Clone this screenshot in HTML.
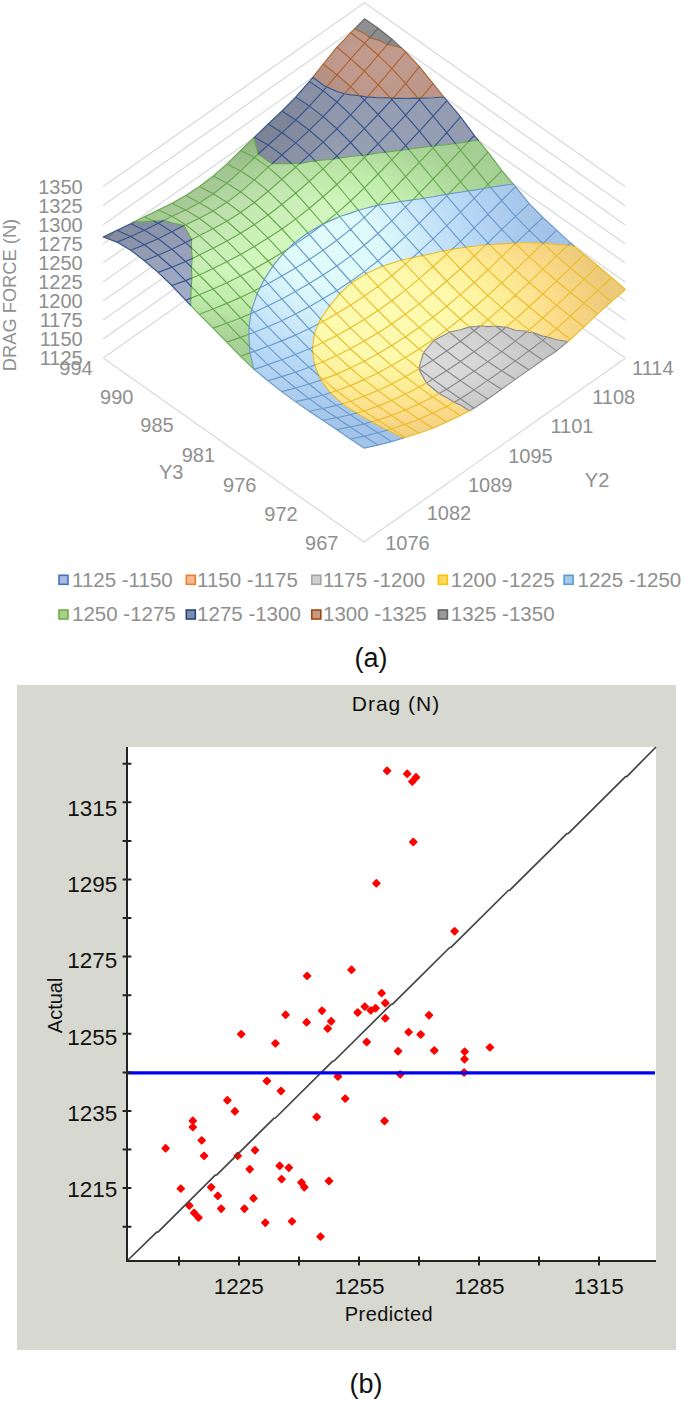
<!DOCTYPE html>
<html><head><meta charset="utf-8"><style>
html,body{margin:0;padding:0;background:#fff;}
body{width:685px;height:1405px;overflow:hidden;}
svg{display:block;font-family:"Liberation Sans",sans-serif;}
</style></head><body>
<svg width="685" height="1405" viewBox="0 0 685 1405">
<path fill="none" stroke="#d9d9d9" stroke-width="1.2" d="M103.2 358.0L364.5 174.3L625.3 358.3M103.2 338.9L364.5 155.2L625.3 339.2M103.2 319.9L364.5 136.2L625.3 320.2M103.2 300.9L364.5 117.1L625.3 301.1M103.2 281.8L364.5 98.1L625.3 282.1M103.2 262.8L364.5 79.0L625.3 263.1M103.2 243.7L364.5 60.0L625.3 244.0M103.2 224.7L364.5 40.9L625.3 225.0M103.2 205.6L364.5 21.9L625.3 205.9M103.2 186.5L364.5 2.8L625.3 186.8M103.2 358.0L364.0 542.0L625.3 358.3"/><defs><radialGradient id="g2" gradientUnits="userSpaceOnUse" cx="0" cy="0" r="1" gradientTransform="translate(432 362) scale(130 60)"><stop offset="0" stop-color="#dadada"/><stop offset="0.35" stop-color="#d7d7d7"/><stop offset="1" stop-color="#c2c2c2"/></radialGradient><radialGradient id="g3" gradientUnits="userSpaceOnUse" cx="0" cy="0" r="1" gradientTransform="translate(380 315) scale(250 140)"><stop offset="0" stop-color="#fdfbb2"/><stop offset="0.3" stop-color="#fdf9ac"/><stop offset="0.5" stop-color="#fdee98"/><stop offset="0.7" stop-color="#fcdd8c"/><stop offset="0.92" stop-color="#edca79"/></radialGradient><radialGradient id="g4" gradientUnits="userSpaceOnUse" cx="0" cy="0" r="1" gradientTransform="translate(330 250) scale(230 190)"><stop offset="0" stop-color="#e2fbfa"/><stop offset="0.2" stop-color="#defafb"/><stop offset="0.36" stop-color="#d0edf9"/><stop offset="0.6" stop-color="#b8d9f6"/><stop offset="0.93" stop-color="#a3c3e8"/></radialGradient><radialGradient id="g5" gradientUnits="userSpaceOnUse" cx="0" cy="0" r="1" gradientTransform="translate(280 235) scale(264 120)"><stop offset="0" stop-color="#d1f7be"/><stop offset="0.33" stop-color="#cff5bc"/><stop offset="0.58" stop-color="#c0ecac"/><stop offset="0.83" stop-color="#acd69a"/><stop offset="1" stop-color="#a5ce94"/></radialGradient><radialGradient id="g6" gradientUnits="userSpaceOnUse" cx="0" cy="0" r="1" gradientTransform="translate(340 165) scale(140 90)"><stop offset="0" stop-color="#9ca4b8"/><stop offset="0.3" stop-color="#98a0b4"/><stop offset="1" stop-color="#949cb2"/></radialGradient><linearGradient id="gdl" gradientUnits="userSpaceOnUse" x1="120" y1="228" x2="180" y2="290"><stop offset="0" stop-color="#92989f"/><stop offset="0" stop-color="#a0a9c2"/><stop offset="0.45" stop-color="#a0a9c2"/><stop offset="1" stop-color="#a2acc6"/></linearGradient><radialGradient id="g7" gradientUnits="userSpaceOnUse" cx="0" cy="0" r="1" gradientTransform="translate(380 60) scale(100 60)"><stop offset="0" stop-color="#c29d8f"/><stop offset="1" stop-color="#ba9486"/></radialGradient><radialGradient id="g8" gradientUnits="userSpaceOnUse" cx="0" cy="0" r="1" gradientTransform="translate(365 20) scale(40 20)"><stop offset="0" stop-color="#919191"/><stop offset="1" stop-color="#8c8c8c"/></radialGradient></defs><g stroke="none"><path fill="url(#g2)" d="M469.4 410.7L474.0 408.3L460.3 398.7L460.3 404.9ZM460.3 404.9L460.3 398.7L454.1 402.2ZM454.1 402.2L460.3 398.7L446.6 389.2L446.6 397.5ZM446.6 397.5L446.6 389.2L439.0 393.5ZM439.0 393.5L446.6 389.2L432.8 379.3L432.8 388.2ZM432.8 388.2L432.8 379.3L426.4 383.0ZM426.4 383.0L432.8 379.3L419.1 368.8L419.1 369.6ZM419.1 369.6L419.1 368.8L418.8 369.0ZM418.8 369.0L419.1 368.8L418.7 368.5ZM474.0 408.3L487.8 398.9L474.0 389.9L460.3 398.7ZM460.3 398.7L474.0 389.9L460.3 380.5L446.6 389.2ZM446.6 389.2L460.3 380.5L446.6 370.7L432.8 379.3ZM432.8 379.3L446.6 370.7L432.9 360.2L419.1 368.8ZM419.1 368.8L432.9 360.2L423.6 352.5L419.1 367.3ZM419.1 368.8L419.1 367.3L418.7 368.5ZM487.8 398.9L501.5 389.2L487.8 380.4L474.0 389.9ZM474.0 389.9L487.8 380.4L474.1 371.3L460.3 380.5ZM460.3 380.5L474.1 371.3L460.3 361.5L446.6 370.7ZM446.6 370.7L460.3 361.5L446.6 351.0L432.9 360.2ZM432.9 360.2L446.6 351.0L433.8 340.4L432.9 341.6ZM432.9 360.2L432.9 341.6L423.6 352.5ZM501.5 389.2L515.3 379.4L501.6 370.7L487.8 380.4ZM487.8 380.4L501.6 370.7L487.8 361.6L474.1 371.3ZM474.1 371.3L487.8 361.6L474.1 351.8L460.3 361.5ZM460.3 361.5L474.1 351.8L460.4 341.2L446.6 351.0ZM446.6 351.0L460.4 341.2L449.4 332.0L446.6 333.8ZM446.6 351.0L446.6 333.8L433.8 340.4ZM515.3 379.4L529.0 369.9L515.3 360.9L501.6 370.7ZM501.6 370.7L515.3 360.9L501.6 351.6L487.8 361.6ZM487.8 361.6L501.6 351.6L487.9 341.6L474.1 351.8ZM474.1 351.8L487.9 341.6L474.1 330.8L460.4 341.2ZM460.4 341.2L474.1 330.8L469.6 326.9L460.4 329.8ZM460.4 341.2L460.4 329.8L449.4 332.0ZM529.0 369.9L542.8 360.0L529.1 350.8L515.3 360.9ZM515.3 360.9L529.1 350.8L515.3 341.1L501.6 351.6ZM501.6 351.6L515.3 341.1L501.6 330.7L487.9 341.6ZM487.9 341.6L501.6 330.7L495.8 326.0L487.9 326.6ZM487.9 341.6L487.9 326.6L480.3 325.8L474.1 330.8ZM474.1 330.8L480.3 325.8L474.1 326.7ZM474.1 330.8L474.1 326.7L469.6 326.9ZM542.8 360.0L556.5 350.9L542.8 340.4L529.1 350.8ZM529.1 350.8L542.8 340.4L532.3 332.4L529.1 332.5ZM529.1 350.8L529.1 332.5L527.4 331.3L515.3 341.1ZM515.3 341.1L527.4 331.3L515.3 330.3ZM515.3 341.1L515.3 330.3L506.0 327.0L501.6 330.7ZM501.6 330.7L506.0 327.0L501.6 326.9ZM501.6 330.7L501.6 326.9L495.8 326.0ZM556.5 350.9L567.9 341.5L556.6 339.7ZM556.5 350.9L556.6 339.7L546.9 336.9L542.8 340.4ZM542.8 340.4L546.9 336.9L542.8 336.1ZM542.8 340.4L542.8 336.1L532.3 332.4Z"/><path fill="url(#g3)" d="M403.6 438.0L405.3 437.5L391.5 428.8L391.5 432.1ZM391.5 432.1L391.5 428.8L387.5 430.0ZM387.5 430.0L391.5 428.8L377.8 420.1L377.8 425.0ZM377.8 425.0L377.8 420.1L371.6 421.8ZM371.6 421.8L377.8 420.1L364.1 411.0L364.1 417.4ZM364.1 417.4L364.1 411.0L356.5 413.1ZM356.5 413.1L364.1 411.0L350.4 401.3L350.3 408.9ZM350.3 408.9L350.4 401.3L342.3 403.7ZM342.3 403.7L350.4 401.3L336.6 390.8L336.6 398.3ZM336.6 398.3L336.6 390.8L330.3 392.8ZM330.3 392.8L336.6 390.8L322.9 379.4L322.9 382.6ZM322.9 382.6L322.9 379.4L320.9 380.1ZM320.9 380.1L322.9 379.4L318.8 375.8ZM405.3 437.5L419.0 433.2L405.3 424.4L391.5 428.8ZM391.5 428.8L405.3 424.4L391.6 415.4L377.8 420.1ZM377.8 420.1L391.6 415.4L377.8 406.1L364.1 411.0ZM364.1 411.0L377.8 406.1L364.1 396.3L350.4 401.3ZM350.4 401.3L364.1 396.3L350.4 385.6L336.6 390.8ZM336.6 390.8L350.4 385.6L336.7 374.1L322.9 379.4ZM322.9 379.4L336.7 374.1L322.9 361.8ZM322.9 379.4L322.9 361.8L314.8 365.0L318.8 375.8ZM314.8 365.0L322.9 361.8L312.7 352.1ZM419.0 433.2L432.8 428.2L419.0 419.2L405.3 424.4ZM405.3 424.4L419.0 419.2L405.3 410.0L391.6 415.4ZM391.6 415.4L405.3 410.0L391.6 400.5L377.8 406.1ZM377.8 406.1L391.6 400.5L377.9 390.4L364.1 396.3ZM364.1 396.3L377.9 390.4L364.1 379.6L350.4 385.6ZM350.4 385.6L364.1 379.6L350.4 368.0L336.7 374.1ZM336.7 374.1L350.4 368.0L336.7 355.6L322.9 361.8ZM322.9 361.8L336.7 355.6L323.0 342.5ZM322.9 361.8L323.0 342.5L312.6 347.3L312.7 352.1ZM312.6 347.3L323.0 342.5L314.4 333.9ZM432.8 428.2L446.5 422.1L432.8 413.1L419.0 419.2ZM419.0 419.2L432.8 413.1L419.1 403.9L405.3 410.0ZM405.3 410.0L419.1 403.9L405.3 394.2L391.6 400.5ZM391.6 400.5L405.3 394.2L391.6 383.9L377.9 390.4ZM377.9 390.4L391.6 383.9L377.9 372.9L364.1 379.6ZM364.1 379.6L377.9 372.9L364.2 361.2L350.4 368.0ZM350.4 368.0L364.2 361.2L350.4 348.7L336.7 355.6ZM336.7 355.6L350.4 348.7L336.7 335.5L323.0 342.5ZM323.0 342.5L336.7 335.5L323.0 321.5ZM323.0 342.5L323.0 321.5L318.1 324.1L314.4 333.9ZM318.1 324.1L323.0 321.5L320.7 319.1ZM446.5 422.1L460.3 415.6L446.5 406.4L432.8 413.1ZM432.8 413.1L446.5 406.4L432.8 397.0L419.1 403.9ZM419.1 403.9L432.8 397.0L419.1 387.1L405.3 394.2ZM405.3 394.2L419.1 387.1L405.4 376.7L391.6 383.9ZM391.6 383.9L405.4 376.7L391.6 365.6L377.9 372.9ZM377.9 372.9L391.6 365.6L377.9 353.7L364.2 361.2ZM364.2 361.2L377.9 353.7L364.2 341.1L350.4 348.7ZM350.4 348.7L364.2 341.1L350.5 327.8L336.7 335.5ZM336.7 335.5L350.5 327.8L336.7 313.6L323.0 321.5ZM323.0 321.5L336.7 313.6L329.6 305.9L323.0 315.7ZM323.0 321.5L323.0 315.7L320.7 319.1ZM460.3 415.6L469.4 410.7L460.3 404.9ZM460.3 415.6L460.3 404.9L454.1 402.2L446.5 406.4ZM446.5 406.4L454.1 402.2L446.6 397.5ZM446.5 406.4L446.6 397.5L439.0 393.5L432.8 397.0ZM432.8 397.0L439.0 393.5L432.8 388.2ZM432.8 397.0L432.8 388.2L426.4 383.0L419.1 387.1ZM419.1 387.1L426.4 383.0L419.1 369.6ZM419.1 387.1L419.1 369.6L418.8 369.0L405.4 376.7ZM405.4 376.7L418.8 369.0L418.7 368.5L405.4 357.6ZM405.4 376.7L405.4 357.6L391.6 365.6ZM391.6 365.6L405.4 357.6L391.7 345.6L377.9 353.7ZM377.9 353.7L391.7 345.6L377.9 332.9L364.2 341.1ZM364.2 341.1L377.9 332.9L364.2 319.4L350.5 327.8ZM350.5 327.8L364.2 319.4L350.5 305.3L336.7 313.6ZM336.7 313.6L350.5 305.3L339.7 293.7L336.8 297.3ZM336.7 313.6L336.8 297.3L329.6 305.9ZM423.6 352.5L419.1 348.9L419.1 367.3ZM419.1 367.3L419.1 348.9L405.4 357.6L418.7 368.5ZM405.4 357.6L419.1 348.9L405.4 336.8L391.7 345.6ZM391.7 345.6L405.4 336.8L391.7 324.0L377.9 332.9ZM377.9 332.9L391.7 324.0L378.0 310.5L364.2 319.4ZM364.2 319.4L378.0 310.5L364.2 296.3L350.5 305.3ZM350.5 305.3L364.2 296.3L351.7 282.8L350.5 283.9ZM350.5 305.3L350.5 283.9L339.7 293.7ZM433.8 340.4L432.9 339.6L432.9 341.6ZM432.9 341.6L432.9 339.6L419.1 348.9L423.6 352.5ZM419.1 348.9L432.9 339.6L419.2 327.4L405.4 336.8ZM405.4 336.8L419.2 327.4L405.4 314.3L391.7 324.0ZM391.7 324.0L405.4 314.3L391.7 300.7L378.0 310.5ZM378.0 310.5L391.7 300.7L378.0 286.4L364.2 296.3ZM364.2 296.3L378.0 286.4L366.0 273.5L364.3 274.7ZM364.2 296.3L364.3 274.7L351.7 282.8ZM449.4 332.0L446.6 329.7L446.6 333.8ZM446.6 333.8L446.6 329.7L432.9 339.6L433.8 340.4ZM432.9 339.6L446.6 329.7L432.9 317.2L419.2 327.4ZM419.2 327.4L432.9 317.2L419.2 303.9L405.4 314.3ZM405.4 314.3L419.2 303.9L405.5 290.1L391.7 300.7ZM391.7 300.7L405.5 290.1L391.7 275.7L378.0 286.4ZM378.0 286.4L391.7 275.7L382.8 266.0L378.0 268.2ZM378.0 286.4L378.0 268.2L366.0 273.5ZM469.6 326.9L460.4 319.0L460.4 329.8ZM460.4 329.8L460.4 319.0L446.6 329.7L449.4 332.0ZM446.6 329.7L460.4 319.0L446.7 306.3L432.9 317.2ZM432.9 317.2L446.7 306.3L432.9 292.8L419.2 303.9ZM419.2 303.9L432.9 292.8L419.2 278.6L405.5 290.1ZM405.5 290.1L419.2 278.6L405.5 264.1L391.7 275.7ZM391.7 275.7L405.5 264.1L401.7 260.0L391.8 263.3ZM391.7 275.7L391.8 263.3L382.8 266.0ZM495.8 326.0L487.9 319.6L487.9 326.6ZM487.9 326.6L487.9 319.6L480.3 325.8ZM480.3 325.8L487.9 319.6L474.2 307.5L474.1 326.7ZM474.1 326.7L474.2 307.5L460.4 319.0L469.6 326.9ZM460.4 319.0L474.2 307.5L460.4 294.6L446.7 306.3ZM446.7 306.3L460.4 294.6L446.7 281.0L432.9 292.8ZM432.9 292.8L446.7 281.0L433.0 266.5L419.2 278.6ZM419.2 278.6L433.0 266.5L422.7 255.4L419.2 256.3ZM419.2 278.6L419.2 256.3L412.7 257.5L405.5 264.1ZM405.5 264.1L412.7 257.5L405.5 259.2ZM405.5 264.1L405.5 259.2L401.7 260.0ZM532.3 332.4L529.1 329.9L529.1 332.5ZM529.1 332.5L529.1 329.9L527.4 331.3ZM527.4 331.3L529.1 329.9L515.4 319.1L515.3 330.3ZM515.3 330.3L515.4 319.1L506.0 327.0ZM506.0 327.0L515.4 319.1L501.6 307.6L501.6 326.9ZM501.6 326.9L501.6 307.6L487.9 319.6L495.8 326.0ZM487.9 319.6L501.6 307.6L487.9 295.4L474.2 307.5ZM474.2 307.5L487.9 295.4L474.2 282.5L460.4 294.6ZM460.4 294.6L474.2 282.5L460.5 268.8L446.7 281.0ZM446.7 281.0L460.5 268.8L446.7 254.3L433.0 266.5ZM433.0 266.5L446.7 254.3L443.6 250.8L433.0 253.5ZM433.0 266.5L433.0 253.5L422.7 255.4ZM567.9 341.5L570.3 339.5L556.6 328.8L556.6 339.7ZM556.6 339.7L556.6 328.8L546.9 336.9ZM546.9 336.9L556.6 328.8L542.8 318.0L542.8 336.1ZM542.8 336.1L542.8 318.0L529.1 329.9L532.3 332.4ZM529.1 329.9L542.8 318.0L529.1 306.8L515.4 319.1ZM515.4 319.1L529.1 306.8L515.4 295.2L501.6 307.6ZM501.6 307.6L515.4 295.2L501.7 282.8L487.9 295.4ZM487.9 295.4L501.7 282.8L487.9 269.8L474.2 282.5ZM474.2 282.5L487.9 269.8L474.2 256.0L460.5 268.8ZM460.5 268.8L474.2 256.0L465.8 247.1L460.5 248.0ZM460.5 268.8L460.5 248.0L452.2 249.1L446.7 254.3ZM446.7 254.3L452.2 249.1L446.7 250.2ZM446.7 254.3L446.7 250.2L443.6 250.8ZM570.3 339.5L584.0 326.8L570.3 316.2L556.6 328.8ZM556.6 328.8L570.3 316.2L556.6 305.3L542.8 318.0ZM542.8 318.0L556.6 305.3L542.9 294.0L529.1 306.8ZM529.1 306.8L542.9 294.0L529.1 282.3L515.4 295.2ZM515.4 295.2L529.1 282.3L515.4 269.9L501.7 282.8ZM501.7 282.8L515.4 269.9L501.7 256.7L487.9 269.8ZM487.9 269.8L501.7 256.7L489.6 244.5L488.0 244.6ZM487.9 269.8L488.0 244.6L486.0 244.7L474.2 256.0ZM474.2 256.0L486.0 244.7L474.2 246.3ZM474.2 256.0L474.2 246.3L465.8 247.1ZM584.0 326.8L597.8 313.9L584.1 303.2L570.3 316.2ZM570.3 316.2L584.1 303.2L570.3 292.3L556.6 305.3ZM556.6 305.3L570.3 292.3L556.6 281.0L542.9 294.0ZM542.9 294.0L556.6 281.0L542.9 269.2L529.1 282.3ZM529.1 282.3L542.9 269.2L529.2 256.7L515.4 269.9ZM515.4 269.9L529.2 256.7L515.4 243.5L501.7 256.7ZM501.7 256.7L515.4 243.5L514.9 243.0L501.7 243.9ZM501.7 256.7L501.7 243.9L489.6 244.5ZM597.8 313.9L611.5 301.6L597.8 290.4L584.1 303.2ZM584.1 303.2L597.8 290.4L584.1 279.1L570.3 292.3ZM570.3 292.3L584.1 279.1L570.4 267.8L556.6 281.0ZM556.6 281.0L570.4 267.8L556.6 255.9L542.9 269.2ZM542.9 269.2L556.6 255.9L542.9 243.4L529.2 256.7ZM529.2 256.7L542.9 243.4L542.6 243.1L529.2 242.7ZM529.2 256.7L529.2 242.7L516.1 242.8L515.4 243.5ZM515.4 243.5L516.1 242.8L515.4 242.9ZM515.4 243.5L515.4 242.9L514.9 243.0ZM611.5 301.6L625.3 289.5L611.6 277.5L597.8 290.4ZM597.8 290.4L611.6 277.5L597.8 265.8L584.1 279.1ZM584.1 279.1L597.8 265.8L584.1 254.5L570.4 267.8ZM570.4 267.8L584.1 254.5L574.2 246.0L570.4 245.3ZM570.4 267.8L570.4 245.3L568.1 245.0L556.6 255.9ZM556.6 255.9L568.1 245.0L556.7 244.4ZM556.6 255.9L556.7 244.4L543.2 243.1L542.9 243.4ZM542.9 243.4L543.2 243.1L542.9 243.1ZM542.9 243.4L542.9 243.1L542.6 243.1Z"/><path fill="url(#g4)" d="M364.0 448.1L377.8 445.1L364.0 436.1L350.3 439.0ZM350.3 439.0L364.0 436.1L350.3 427.0L336.5 429.6ZM336.5 429.6L350.3 427.0L336.6 417.8L322.8 420.3ZM322.8 420.3L336.6 417.8L322.8 408.5L309.1 411.2ZM309.1 411.2L322.8 408.5L309.1 398.6L295.4 401.6ZM295.4 401.6L309.1 398.6L295.4 388.0L281.6 391.6ZM281.6 391.6L295.4 388.0L281.7 376.6L267.9 380.7ZM267.9 380.7L281.7 376.6L267.9 364.6L254.2 369.4ZM254.2 369.4L267.9 364.6L254.2 351.4ZM254.2 369.4L254.2 351.4L249.9 352.9L253.9 369.1ZM249.9 352.9L254.2 351.4L249.5 346.6ZM377.8 445.1L391.5 441.6L377.8 432.7L364.0 436.1ZM364.0 436.1L377.8 432.7L364.1 423.9L350.3 427.0ZM350.3 427.0L364.1 423.9L350.3 414.8L336.6 417.8ZM336.6 417.8L350.3 414.8L336.6 405.4L322.8 408.5ZM322.8 408.5L336.6 405.4L322.9 395.2L309.1 398.6ZM309.1 398.6L322.9 395.2L309.1 384.0L295.4 388.0ZM295.4 388.0L309.1 384.0L295.4 372.2L281.7 376.6ZM281.7 376.6L295.4 372.2L281.7 359.7L267.9 364.6ZM267.9 364.6L281.7 359.7L268.0 346.3L254.2 351.4ZM254.2 351.4L268.0 346.3L254.2 332.3ZM254.2 351.4L254.2 332.3L248.9 334.3L249.5 346.6ZM248.9 334.3L254.2 332.3L249.1 326.9ZM391.5 441.6L403.6 438.0L391.5 432.1ZM391.5 441.6L391.5 432.1L387.5 430.0L377.8 432.7ZM377.8 432.7L387.5 430.0L377.8 425.0ZM377.8 432.7L377.8 425.0L371.6 421.8L364.1 423.9ZM364.1 423.9L371.6 421.8L364.1 417.4ZM364.1 423.9L364.1 417.4L356.5 413.1L350.3 414.8ZM350.3 414.8L356.5 413.1L350.3 408.9ZM350.3 414.8L350.3 408.9L342.3 403.7L336.6 405.4ZM336.6 405.4L342.3 403.7L336.6 398.3ZM336.6 405.4L336.6 398.3L330.3 392.8L322.9 395.2ZM322.9 395.2L330.3 392.8L322.9 382.6ZM322.9 395.2L322.9 382.6L320.9 380.1L309.1 384.0ZM309.1 384.0L320.9 380.1L318.8 375.8L309.2 367.3ZM309.1 384.0L309.2 367.3L295.4 372.2ZM295.4 372.2L309.2 367.3L295.4 354.5L281.7 359.7ZM281.7 359.7L295.4 354.5L281.7 340.9L268.0 346.3ZM268.0 346.3L281.7 340.9L268.0 326.8L254.2 332.3ZM254.2 332.3L268.0 326.8L254.3 312.2ZM254.2 332.3L254.3 312.2L250.9 313.6L249.1 326.9ZM250.9 313.6L254.3 312.2L251.7 309.4ZM314.8 365.0L309.2 367.3L318.8 375.8ZM309.2 367.3L314.8 365.0L312.7 352.1L309.2 348.8ZM309.2 367.3L309.2 348.8L295.4 354.5ZM295.4 354.5L309.2 348.8L295.5 335.1L281.7 340.9ZM281.7 340.9L295.5 335.1L281.7 320.7L268.0 326.8ZM268.0 326.8L281.7 320.7L268.0 305.8L254.3 312.2ZM254.3 312.2L268.0 305.8L257.1 293.8L254.3 302.2ZM254.3 312.2L254.3 302.2L251.7 309.4ZM312.6 347.3L309.2 348.8L312.7 352.1ZM309.2 348.8L312.6 347.3L314.4 333.9L309.2 328.8ZM309.2 348.8L309.2 328.8L295.5 335.1ZM295.5 335.1L309.2 328.8L295.5 314.0L281.7 320.7ZM281.7 320.7L295.5 314.0L281.8 298.9L268.0 305.8ZM268.0 305.8L281.8 298.9L268.0 283.7ZM268.0 305.8L268.0 283.7L260.1 287.8L257.1 293.8ZM260.1 287.8L268.0 283.7L264.2 279.5ZM318.1 324.1L309.2 328.8L314.4 333.9ZM309.2 328.8L318.1 324.1L320.7 319.1L309.3 306.7ZM309.2 328.8L309.3 306.7L295.5 314.0ZM295.5 314.0L309.3 306.7L295.5 291.5L281.8 298.9ZM281.8 298.9L295.5 291.5L281.8 276.1L268.0 283.7ZM268.0 283.7L281.8 276.1L272.8 266.2L268.1 273.6ZM268.0 283.7L268.1 273.6L264.2 279.5ZM329.6 305.9L323.0 298.8L323.0 315.7ZM323.0 315.7L323.0 298.8L309.3 306.7L320.7 319.1ZM309.3 306.7L323.0 298.8L309.3 283.5L295.5 291.5ZM295.5 291.5L309.3 283.5L295.6 268.0L281.8 276.1ZM281.8 276.1L295.6 268.0L282.8 253.9L281.8 255.2ZM281.8 276.1L281.8 255.2L272.8 266.2ZM339.7 293.7L336.8 290.5L336.8 297.3ZM336.8 297.3L336.8 290.5L323.0 298.8L329.6 305.9ZM323.0 298.8L336.8 290.5L323.0 275.1L309.3 283.5ZM309.3 283.5L323.0 275.1L309.3 259.5L295.6 268.0ZM295.6 268.0L309.3 259.5L295.6 243.9ZM295.6 268.0L295.6 243.9L288.5 248.5L282.8 253.9ZM288.5 248.5L295.6 243.9L294.4 242.7ZM351.7 282.8L350.5 281.5L350.5 283.9ZM350.5 283.9L350.5 281.5L336.8 290.5L339.7 293.7ZM336.8 290.5L350.5 281.5L336.8 266.0L323.0 275.1ZM323.0 275.1L336.8 266.0L323.1 250.3L309.3 259.5ZM309.3 259.5L323.1 250.3L309.3 234.5L295.6 243.9ZM295.6 243.9L309.3 234.5L307.8 232.7L295.6 242.0ZM295.6 243.9L295.6 242.0L294.4 242.7ZM366.0 273.5L364.3 271.6L364.3 274.7ZM364.3 274.7L364.3 271.6L350.5 281.5L351.7 282.8ZM350.5 281.5L364.3 271.6L350.5 256.1L336.8 266.0ZM336.8 266.0L350.5 256.1L336.8 240.3L323.1 250.3ZM323.1 250.3L336.8 240.3L323.1 224.3L309.3 234.5ZM309.3 234.5L323.1 224.3L322.9 224.0L309.3 232.0ZM309.3 234.5L309.3 232.0L307.8 232.7ZM382.8 266.0L378.0 260.8L378.0 268.2ZM378.0 268.2L378.0 260.8L364.3 271.6L366.0 273.5ZM364.3 271.6L378.0 260.8L364.3 245.3L350.5 256.1ZM350.5 256.1L364.3 245.3L350.6 229.4L336.8 240.3ZM336.8 240.3L350.6 229.4L339.7 216.5L336.8 217.9ZM336.8 240.3L336.8 217.9L323.9 223.6L323.1 224.3ZM323.1 224.3L323.9 223.6L323.1 224.0ZM323.1 224.3L323.1 224.0L322.9 224.0ZM401.7 260.0L391.8 249.0L391.8 263.3ZM391.8 263.3L391.8 249.0L378.0 260.8L382.8 266.0ZM378.0 260.8L391.8 249.0L378.0 233.5L364.3 245.3ZM364.3 245.3L378.0 233.5L364.3 217.6L350.6 229.4ZM350.6 229.4L364.3 217.6L358.3 210.2L350.6 213.1ZM350.6 229.4L350.6 213.1L339.7 216.5ZM422.7 255.4L419.2 251.6L419.2 256.3ZM419.2 256.3L419.2 251.6L412.7 257.5ZM412.7 257.5L419.2 251.6L405.5 236.4L405.5 259.2ZM405.5 259.2L405.5 236.4L391.8 249.0L401.7 260.0ZM391.8 249.0L405.5 236.4L391.8 220.8L378.0 233.5ZM378.0 233.5L391.8 220.8L378.3 205.0L378.1 205.0ZM378.0 233.5L378.1 205.0L377.6 205.1L364.3 217.6ZM364.3 217.6L377.6 205.1L364.3 208.8ZM364.3 217.6L364.3 208.8L358.3 210.2ZM443.6 250.8L433.0 238.9L433.0 253.5ZM433.0 253.5L433.0 238.9L419.2 251.6L422.7 255.4ZM419.2 251.6L433.0 238.9L419.3 223.2L405.5 236.4ZM405.5 236.4L419.3 223.2L405.5 207.2L391.8 220.8ZM391.8 220.8L405.5 207.2L400.8 201.5L391.8 203.1ZM391.8 220.8L391.8 203.1L378.3 205.0ZM465.8 247.1L460.5 241.4L460.5 248.0ZM460.5 248.0L460.5 241.4L452.2 249.1ZM452.2 249.1L460.5 241.4L446.8 225.7L446.7 250.2ZM446.7 250.2L446.8 225.7L433.0 238.9L443.6 250.8ZM433.0 238.9L446.8 225.7L433.0 209.5L419.3 223.2ZM419.3 223.2L433.0 209.5L423.6 198.2L419.3 199.0ZM419.3 223.2L419.3 199.0L412.8 199.8L405.5 207.2ZM405.5 207.2L412.8 199.8L405.6 200.9ZM405.5 207.2L405.6 200.9L400.8 201.5ZM489.6 244.5L488.0 242.8L488.0 244.6ZM488.0 244.6L488.0 242.8L486.0 244.7ZM486.0 244.7L488.0 242.8L474.2 227.9L474.2 246.3ZM474.2 246.3L474.2 227.9L460.5 241.4L465.8 247.1ZM460.5 241.4L474.2 227.9L460.5 212.2L446.8 225.7ZM446.8 225.7L460.5 212.2L446.8 195.8L433.0 209.5ZM433.0 209.5L446.8 195.8L445.6 194.4L433.0 196.8ZM433.0 209.5L433.0 196.8L423.6 198.2ZM514.9 243.0L501.7 229.4L501.7 243.9ZM501.7 243.9L501.7 229.4L488.0 242.8L489.6 244.5ZM488.0 242.8L501.7 229.4L488.0 214.3L474.2 227.9ZM474.2 227.9L488.0 214.3L474.3 198.3L460.5 212.2ZM460.5 212.2L474.3 198.3L468.1 190.9L460.5 192.2ZM460.5 212.2L460.5 192.2L448.6 193.9L446.8 195.8ZM446.8 195.8L448.6 193.9L446.8 194.2ZM446.8 195.8L446.8 194.2L445.6 194.4ZM542.6 243.1L529.2 230.4L529.2 242.7ZM529.2 242.7L529.2 230.4L516.1 242.8ZM516.1 242.8L529.2 230.4L515.5 216.3L515.4 242.9ZM515.4 242.9L515.5 216.3L501.7 229.4L514.9 243.0ZM501.7 229.4L515.5 216.3L501.7 200.5L488.0 214.3ZM488.0 214.3L501.7 200.5L490.6 187.4L488.0 187.8ZM488.0 214.3L488.0 187.8L484.2 188.3L474.3 198.3ZM474.3 198.3L484.2 188.3L474.3 190.1ZM474.3 198.3L474.3 190.1L468.1 190.9ZM574.2 246.0L570.4 242.8L570.4 245.3ZM570.4 245.3L570.4 242.8L568.1 245.0ZM568.1 245.0L570.4 242.8L556.7 230.1L556.7 244.4ZM556.7 244.4L556.7 230.1L543.2 243.1ZM543.2 243.1L556.7 230.1L542.9 217.5L542.9 243.1ZM542.9 243.1L542.9 217.5L529.2 230.4L542.6 243.1ZM529.2 230.4L542.9 217.5L529.2 203.7L515.5 216.3ZM515.5 216.3L529.2 203.7L515.5 186.6L501.7 200.5ZM501.7 200.5L515.5 186.6L513.2 184.0L501.7 185.6ZM501.7 200.5L501.7 185.6L490.6 187.4Z"/><path fill="url(#g5)" d="M249.9 352.9L240.5 356.3L253.9 369.1ZM240.5 356.3L249.9 352.9L249.5 346.6L240.5 337.4ZM240.5 356.3L240.5 337.4L226.7 342.1ZM226.7 342.1L240.5 337.4L226.8 323.2L213.0 328.1ZM213.0 328.1L226.8 323.2L213.0 309.0L199.3 314.3ZM199.3 314.3L213.0 309.0L199.3 294.8ZM199.3 314.3L199.3 294.8L190.8 298.1L190.6 305.4ZM190.8 298.1L199.3 294.8L191.3 286.5ZM248.9 334.3L240.5 337.4L249.5 346.6ZM240.5 337.4L248.9 334.3L249.1 326.9L240.5 318.0ZM240.5 337.4L240.5 318.0L226.8 323.2ZM226.8 323.2L240.5 318.0L226.8 303.4L213.0 309.0ZM213.0 309.0L226.8 303.4L213.1 289.0L199.3 294.8ZM199.3 294.8L213.1 289.0L199.3 275.0ZM199.3 294.8L199.3 275.0L191.9 278.0L191.3 286.5ZM191.9 278.0L199.3 275.0L191.4 267.2ZM250.9 313.6L240.5 318.0L249.1 326.9ZM240.5 318.0L250.9 313.6L251.7 309.4L240.5 297.4ZM240.5 318.0L240.5 297.4L226.8 303.4ZM226.8 303.4L240.5 297.4L226.8 282.8L213.1 289.0ZM213.1 289.0L226.8 282.8L213.1 268.6L199.3 275.0ZM199.3 275.0L213.1 268.6L199.4 255.1ZM199.3 275.0L199.4 255.1L192.3 258.4L191.4 267.2ZM192.3 258.4L199.4 255.1L191.3 247.8ZM153.3 221.0L144.5 216.8L144.4 221.6ZM144.4 221.6L144.5 216.8L134.1 221.9ZM257.1 293.8L254.3 290.8L254.3 302.2ZM254.3 302.2L254.3 290.8L240.5 297.4L251.7 309.4ZM240.5 297.4L254.3 290.8L240.6 276.0L226.8 282.8ZM226.8 282.8L240.6 276.0L226.8 261.7L213.1 268.6ZM213.1 268.6L226.8 261.7L213.1 248.2L199.4 255.1ZM199.4 255.1L213.1 248.2L199.4 235.6ZM199.4 255.1L199.4 235.6L191.6 239.6L191.3 247.8ZM191.6 239.6L199.4 235.6L185.7 224.7L185.7 228.6ZM185.7 228.6L185.7 224.7L183.9 225.6ZM183.9 225.6L185.7 224.7L171.9 216.3L171.9 222.7ZM171.9 222.7L171.9 216.3L163.8 220.4ZM163.8 220.4L171.9 216.3L158.2 210.0L158.2 220.8ZM158.2 220.8L158.2 210.0L144.5 216.8L153.3 221.0ZM260.1 287.8L254.3 290.8L257.1 293.8ZM254.3 290.8L260.1 287.8L264.2 279.5L254.3 268.7ZM254.3 290.8L254.3 268.7L240.6 276.0ZM240.6 276.0L254.3 268.7L240.6 254.4L226.8 261.7ZM226.8 261.7L240.6 254.4L226.9 240.9L213.1 248.2ZM213.1 248.2L226.9 240.9L213.1 228.7L199.4 235.6ZM199.4 235.6L213.1 228.7L199.4 218.3L185.7 224.7ZM185.7 224.7L199.4 218.3L185.7 210.0L171.9 216.3ZM171.9 216.3L185.7 210.0L172.0 203.3L158.2 210.0ZM272.8 266.2L268.1 261.0L268.1 273.6ZM268.1 273.6L268.1 261.0L254.3 268.7L264.2 279.5ZM254.3 268.7L268.1 261.0L254.3 246.6L240.6 254.4ZM240.6 254.4L254.3 246.6L240.6 233.2L226.9 240.9ZM226.9 240.9L240.6 233.2L226.9 221.2L213.1 228.7ZM213.1 228.7L226.9 221.2L213.2 211.0L199.4 218.3ZM199.4 218.3L213.2 211.0L199.4 202.7L185.7 210.0ZM185.7 210.0L199.4 202.7L185.7 195.6L172.0 203.3ZM282.8 253.9L281.8 252.8L281.8 255.2ZM281.8 255.2L281.8 252.8L268.1 261.0L272.8 266.2ZM268.1 261.0L281.8 252.8L268.1 238.1L254.3 246.6ZM254.3 246.6L268.1 238.1L254.4 224.6L240.6 233.2ZM240.6 233.2L254.4 224.6L240.6 212.5L226.9 221.2ZM226.9 221.2L240.6 212.5L226.9 202.3L213.2 211.0ZM213.2 211.0L226.9 202.3L213.2 193.8L199.4 202.7ZM199.4 202.7L213.2 193.8L199.5 186.5L185.7 195.6ZM288.5 248.5L281.8 252.8L282.8 253.9ZM281.8 252.8L288.5 248.5L294.4 242.7L281.9 229.0ZM281.8 252.8L281.9 229.0L268.1 238.1ZM268.1 238.1L281.9 229.0L268.1 215.0L254.4 224.6ZM254.4 224.6L268.1 215.0L254.4 202.5L240.6 212.5ZM240.6 212.5L254.4 202.5L240.7 191.9L226.9 202.3ZM226.9 202.3L240.7 191.9L226.9 183.2L213.2 193.8ZM213.2 193.8L226.9 183.2L213.2 176.0L199.5 186.5ZM307.8 232.7L295.6 219.1L295.6 242.0ZM295.6 242.0L295.6 219.1L281.9 229.0L294.4 242.7ZM281.9 229.0L295.6 219.1L281.9 204.5L268.1 215.0ZM268.1 215.0L281.9 204.5L268.2 191.3L254.4 202.5ZM254.4 202.5L268.2 191.3L254.4 179.9L240.7 191.9ZM240.7 191.9L254.4 179.9L240.7 170.9L226.9 183.2ZM226.9 183.2L240.7 170.9L227.0 163.9L213.2 176.0ZM322.9 224.0L309.4 208.3L309.3 232.0ZM309.3 232.0L309.4 208.3L295.6 219.1L307.8 232.7ZM295.6 219.1L309.4 208.3L295.6 193.2L281.9 204.5ZM281.9 204.5L295.6 193.2L281.9 179.3L268.2 191.3ZM268.2 191.3L281.9 179.3L268.2 167.1L254.4 179.9ZM254.4 179.9L268.2 167.1L254.5 157.5L240.7 170.9ZM240.7 170.9L254.5 157.5L240.7 150.5L227.0 163.9ZM339.7 216.5L336.8 213.1L336.8 217.9ZM336.8 217.9L336.8 213.1L323.9 223.6ZM323.9 223.6L336.8 213.1L323.1 196.8L323.1 224.0ZM323.1 224.0L323.1 196.8L309.4 208.3L322.9 224.0ZM309.4 208.3L323.1 196.8L309.4 181.3L295.6 193.2ZM295.6 193.2L309.4 181.3L295.7 167.2L281.9 179.3ZM281.9 179.3L295.7 167.2L291.5 163.5L281.9 163.6ZM281.9 179.3L281.9 163.6L272.3 163.5L268.2 167.1ZM268.2 167.1L272.3 163.5L268.2 161.2ZM268.2 167.1L268.2 161.2L258.2 154.0L254.5 157.5ZM254.5 157.5L258.2 154.0L254.5 140.4ZM254.5 157.5L254.5 140.4L253.9 137.7L240.7 150.5ZM358.3 210.2L350.6 201.0L350.6 213.1ZM350.6 213.1L350.6 201.0L336.8 213.1L339.7 216.5ZM336.8 213.1L350.6 201.0L336.9 184.5L323.1 196.8ZM323.1 196.8L336.9 184.5L323.1 168.9L309.4 181.3ZM309.4 181.3L323.1 168.9L315.3 160.9L309.4 161.7ZM309.4 181.3L309.4 161.7L299.7 163.6L295.7 167.2ZM295.7 167.2L299.7 163.6L295.7 163.4ZM295.7 167.2L295.7 163.4L291.5 163.5ZM378.3 205.0L378.1 204.8L378.1 205.0ZM378.1 205.0L378.1 204.8L377.6 205.1ZM377.6 205.1L378.1 204.8L364.3 187.9L364.3 208.8ZM364.3 208.8L364.3 187.9L350.6 201.0L358.3 210.2ZM350.6 201.0L364.3 187.9L350.6 171.3L336.9 184.5ZM336.9 184.5L350.6 171.3L338.9 158.1L336.9 158.5ZM336.9 184.5L336.9 158.5L333.4 159.2L323.1 168.9ZM323.1 168.9L333.4 159.2L323.1 160.0ZM323.1 168.9L323.1 160.0L315.3 160.9ZM400.8 201.5L391.8 190.8L391.8 203.1ZM391.8 203.1L391.8 190.8L378.1 204.8L378.3 205.0ZM378.1 204.8L391.8 190.8L378.1 174.0L364.3 187.9ZM364.3 187.9L378.1 174.0L364.4 157.6L350.6 171.3ZM350.6 171.3L364.4 157.6L362.3 155.3L350.6 156.5ZM350.6 171.3L350.6 156.5L338.9 158.1ZM423.6 198.2L419.3 193.1L419.3 199.0ZM419.3 199.0L419.3 193.1L412.8 199.8ZM412.8 199.8L419.3 193.1L405.6 176.5L405.6 200.9ZM405.6 200.9L405.6 176.5L391.8 190.8L400.8 201.5ZM391.8 190.8L405.6 176.5L391.8 159.8L378.1 174.0ZM378.1 174.0L391.8 159.8L385.3 152.2L378.1 153.0ZM378.1 174.0L378.1 153.0L367.1 154.9L364.4 157.6ZM364.4 157.6L367.1 154.9L364.4 155.1ZM364.4 157.6L364.4 155.1L362.3 155.3ZM445.6 194.4L433.1 179.0L433.0 196.8ZM433.0 196.8L433.1 179.0L419.3 193.1L423.6 198.2ZM419.3 193.1L433.1 179.0L419.3 162.3L405.6 176.5ZM405.6 176.5L419.3 162.3L408.5 149.2L405.6 149.6ZM405.6 176.5L405.6 149.6L401.0 150.3L391.8 159.8ZM391.8 159.8L401.0 150.3L391.9 151.4ZM391.8 159.8L391.9 151.4L385.3 152.2ZM468.1 190.9L460.5 181.7L460.5 192.2ZM460.5 192.2L460.5 181.7L448.6 193.9ZM448.6 193.9L460.5 181.7L446.8 164.8L446.8 194.2ZM446.8 194.2L446.8 164.8L433.1 179.0L445.6 194.4ZM433.1 179.0L446.8 164.8L433.1 147.9L419.3 162.3ZM419.3 162.3L433.1 147.9L431.6 146.1L419.3 147.8ZM419.3 162.3L419.3 147.8L408.5 149.2ZM490.6 187.4L488.0 184.4L488.0 187.8ZM488.0 187.8L488.0 184.4L484.2 188.3ZM484.2 188.3L488.0 184.4L474.3 167.2L474.3 190.1ZM474.3 190.1L474.3 167.2L460.5 181.7L468.1 190.9ZM460.5 181.7L474.3 167.2L460.6 150.1L446.8 164.8ZM446.8 164.8L460.6 150.1L455.3 143.4L446.8 144.7ZM446.8 164.8L446.8 144.7L435.0 145.8L433.1 147.9ZM433.1 147.9L435.0 145.8L433.1 146.0ZM433.1 147.9L433.1 146.0L431.6 146.1ZM513.2 184.0L501.8 170.6L501.7 185.6ZM501.7 185.6L501.8 170.6L488.0 184.4L490.6 187.4ZM488.0 184.4L501.8 170.6L488.0 152.1L474.3 167.2ZM474.3 167.2L488.0 152.1L478.3 140.3L474.3 140.7ZM474.3 167.2L474.3 140.7L468.7 141.4L460.6 150.1ZM460.6 150.1L468.7 141.4L460.6 143.0ZM460.6 150.1L460.6 143.0L455.3 143.4Z"/><path fill="url(#gdl)" d="M190.8 298.1L185.6 300.2L190.6 305.4ZM185.6 300.2L190.8 298.1L191.3 286.5L185.6 280.6ZM185.6 300.2L185.6 280.6L171.8 285.5ZM171.8 285.5L185.6 280.6L171.9 267.2L158.1 272.4ZM158.1 272.4L171.9 267.2L158.1 255.2L144.4 260.7ZM144.4 260.7L158.1 255.2L144.4 244.8L130.7 250.2ZM130.7 250.2L144.4 244.8L130.7 236.5L116.9 242.1ZM116.9 242.1L130.7 236.5L117.0 230.2L103.2 237.0ZM191.9 278.0L185.6 280.6L191.3 286.5ZM185.6 280.6L191.9 278.0L191.4 267.2L185.6 261.5ZM185.6 280.6L185.6 261.5L171.9 267.2ZM171.9 267.2L185.6 261.5L171.9 249.2L158.1 255.2ZM158.1 255.2L171.9 249.2L158.2 238.7L144.4 244.8ZM144.4 244.8L158.2 238.7L144.4 230.3L130.7 236.5ZM130.7 236.5L144.4 230.3L130.7 223.7L117.0 230.2ZM192.3 258.4L185.6 261.5L191.4 267.2ZM185.6 261.5L192.3 258.4L191.3 247.8L185.6 242.6ZM185.6 261.5L185.6 242.6L171.9 249.2ZM171.9 249.2L185.6 242.6L171.9 231.8L158.2 238.7ZM158.2 238.7L171.9 231.8L158.2 223.3L144.4 230.3ZM144.4 230.3L158.2 223.3L153.3 221.0L144.4 221.6ZM144.4 230.3L144.4 221.6L134.1 221.9L130.7 223.7ZM191.6 239.6L185.6 242.6L191.3 247.8ZM185.6 242.6L191.6 239.6L185.7 228.6ZM185.6 242.6L185.7 228.6L183.9 225.6L171.9 231.8ZM171.9 231.8L183.9 225.6L171.9 222.7ZM171.9 231.8L171.9 222.7L163.8 220.4L158.2 223.3ZM158.2 223.3L163.8 220.4L158.2 220.8ZM158.2 223.3L158.2 220.8L153.3 221.0Z"/><path fill="url(#g6)" d="M291.5 163.5L281.9 155.0L281.9 163.6ZM281.9 163.6L281.9 155.0L272.3 163.5ZM272.3 163.5L281.9 155.0L268.2 145.0L268.2 161.2ZM268.2 161.2L268.2 145.0L258.2 154.0ZM258.2 154.0L268.2 145.0L254.5 137.2L254.5 140.4ZM254.5 140.4L254.5 137.2L253.9 137.7ZM315.3 160.9L309.4 154.9L309.4 161.7ZM309.4 161.7L309.4 154.9L299.7 163.6ZM299.7 163.6L309.4 154.9L295.7 142.9L295.7 163.4ZM295.7 163.4L295.7 142.9L281.9 155.0L291.5 163.5ZM281.9 155.0L295.7 142.9L282.0 132.8L268.2 145.0ZM268.2 145.0L282.0 132.8L268.2 124.0L254.5 137.2ZM338.9 158.1L336.9 155.9L336.9 158.5ZM336.9 158.5L336.9 155.9L333.4 159.2ZM333.4 159.2L336.9 155.9L323.2 142.2L323.1 160.0ZM323.1 160.0L323.2 142.2L309.4 154.9L315.3 160.9ZM309.4 154.9L323.2 142.2L309.4 130.2L295.7 142.9ZM295.7 142.9L309.4 130.2L295.7 120.0L282.0 132.8ZM282.0 132.8L295.7 120.0L282.0 111.0L268.2 124.0ZM362.3 155.3L350.6 142.5L350.6 156.5ZM350.6 156.5L350.6 142.5L336.9 155.9L338.9 158.1ZM336.9 155.9L350.6 142.5L336.9 128.8L323.2 142.2ZM323.2 142.2L336.9 128.8L323.2 116.6L309.4 130.2ZM309.4 130.2L323.2 116.6L309.5 106.1L295.7 120.0ZM295.7 120.0L309.5 106.1L295.7 97.1L282.0 111.0ZM385.3 152.2L378.1 143.8L378.1 153.0ZM378.1 153.0L378.1 143.8L367.1 154.9ZM367.1 154.9L378.1 143.8L364.4 128.7L364.4 155.1ZM364.4 155.1L364.4 128.7L350.6 142.5L362.3 155.3ZM350.6 142.5L364.4 128.7L350.7 114.8L336.9 128.8ZM336.9 128.8L350.7 114.8L336.9 102.0L323.2 116.6ZM323.2 116.6L336.9 102.0L323.2 90.9L309.5 106.1ZM309.5 106.1L323.2 90.9L309.5 81.5L295.7 97.1ZM408.5 149.2L405.6 145.6L405.6 149.6ZM405.6 149.6L405.6 145.6L401.0 150.3ZM401.0 150.3L405.6 145.6L391.9 129.7L391.9 151.4ZM391.9 151.4L391.9 129.7L378.1 143.8L385.3 152.2ZM378.1 143.8L391.9 129.7L378.1 114.5L364.4 128.7ZM364.4 128.7L378.1 114.5L364.4 100.2L350.7 114.8ZM350.7 114.8L364.4 100.2L359.9 95.8L350.7 94.9ZM350.7 114.8L350.7 94.9L344.5 93.7L336.9 102.0ZM336.9 102.0L344.5 93.7L337.0 91.5ZM336.9 102.0L337.0 91.5L326.6 86.9L323.2 90.9ZM323.2 90.9L326.6 86.9L323.2 85.3ZM323.2 90.9L323.2 85.3L312.8 77.3L309.5 81.5ZM431.6 146.1L419.4 131.2L419.3 147.8ZM419.3 147.8L419.4 131.2L405.6 145.6L408.5 149.2ZM405.6 145.6L419.4 131.2L405.6 115.1L391.9 129.7ZM391.9 129.7L405.6 115.1L391.9 99.6L378.1 114.5ZM378.1 114.5L391.9 99.6L390.3 97.9L378.2 97.7ZM378.1 114.5L378.2 97.7L367.4 96.9L364.4 100.2ZM364.4 100.2L367.4 96.9L364.4 96.6ZM364.4 100.2L364.4 96.6L359.9 95.8ZM455.3 143.4L446.8 132.7L446.8 144.7ZM446.8 144.7L446.8 132.7L435.0 145.8ZM435.0 145.8L446.8 132.7L433.1 116.1L433.1 146.0ZM433.1 146.0L433.1 116.1L419.4 131.2L431.6 146.1ZM419.4 131.2L433.1 116.1L419.4 99.7L405.6 115.1ZM405.6 115.1L419.4 99.7L418.0 98.1L405.6 98.5ZM405.6 115.1L405.6 98.5L393.2 98.1L391.9 99.6ZM391.9 99.6L393.2 98.1L391.9 98.0ZM391.9 99.6L391.9 98.0L390.3 97.9ZM478.3 140.3L474.3 135.4L474.3 140.7ZM474.3 140.7L474.3 135.4L468.7 141.4ZM468.7 141.4L474.3 135.4L460.6 116.8L460.6 143.0ZM460.6 143.0L460.6 116.8L446.8 132.7L455.3 143.4ZM446.8 132.7L460.6 116.8L446.9 100.6L433.1 116.1ZM433.1 116.1L446.9 100.6L443.9 97.0L433.1 97.8ZM433.1 116.1L433.1 97.8L420.7 98.1L419.4 99.7ZM419.4 99.7L420.7 98.1L419.4 98.1ZM419.4 99.7L419.4 98.1L418.0 98.1Z"/><path fill="url(#g7)" d="M359.9 95.8L350.7 86.8L350.7 94.9ZM350.7 94.9L350.7 86.8L344.5 93.7ZM344.5 93.7L350.7 86.8L337.0 74.8L337.0 91.5ZM337.0 91.5L337.0 74.8L326.6 86.9ZM326.6 86.9L337.0 74.8L323.2 64.0L323.2 85.3ZM323.2 85.3L323.2 64.0L312.8 77.3ZM390.3 97.9L378.2 84.9L378.2 97.7ZM378.2 97.7L378.2 84.9L367.4 96.9ZM367.4 96.9L378.2 84.9L364.4 71.2L364.4 96.6ZM364.4 96.6L364.4 71.2L350.7 86.8L359.9 95.8ZM350.7 86.8L364.4 71.2L350.7 58.8L337.0 74.8ZM337.0 74.8L350.7 58.8L337.0 47.1L323.2 64.0ZM418.0 98.1L405.7 83.6L405.6 98.5ZM405.6 98.5L405.7 83.6L393.2 98.1ZM393.2 98.1L405.7 83.6L391.9 68.7L391.9 98.0ZM391.9 98.0L391.9 68.7L378.2 84.9L390.3 97.9ZM378.2 84.9L391.9 68.7L378.2 55.2L364.4 71.2ZM364.4 71.2L378.2 55.2L364.5 43.3L350.7 58.8ZM350.7 58.8L364.5 43.3L350.7 32.8L337.0 47.1ZM443.9 97.0L433.1 83.6L433.1 97.8ZM433.1 97.8L433.1 83.6L420.7 98.1ZM420.7 98.1L433.1 83.6L419.4 66.6L419.4 98.1ZM419.4 98.1L419.4 66.6L405.7 83.6L418.0 98.1ZM405.7 83.6L419.4 66.6L405.7 52.0L391.9 68.7ZM391.9 68.7L405.7 52.0L401.1 47.7L391.9 45.3ZM391.9 68.7L391.9 45.3L387.4 44.4L378.2 55.2ZM378.2 55.2L387.4 44.4L378.2 40.1ZM378.2 55.2L378.2 40.1L369.7 37.6L364.5 43.3ZM364.5 43.3L369.7 37.6L364.5 33.5ZM364.5 43.3L364.5 33.5L354.7 28.8L350.7 32.8Z"/><path fill="url(#g8)" d="M401.1 47.7L392.0 39.2L391.9 45.3ZM391.9 45.3L392.0 39.2L387.4 44.4ZM387.4 44.4L392.0 39.2L378.2 28.2L378.2 40.1ZM378.2 40.1L378.2 28.2L369.7 37.6ZM369.7 37.6L378.2 28.2L364.5 18.8L364.5 33.5ZM364.5 33.5L364.5 18.8L354.7 28.8Z"/><g fill="#000"><path fill-opacity="0.020" d="M171.8 285.5L185.6 280.6L171.9 267.2L158.1 272.4Z"/><path fill-opacity="0.049" d="M158.1 272.4L171.9 267.2L158.1 255.2L144.4 260.7Z"/><path fill-opacity="0.082" d="M144.4 260.7L158.1 255.2L144.4 244.8L130.7 250.2Z"/><path fill-opacity="0.120" d="M130.7 250.2L144.4 244.8L130.7 236.5L116.9 242.1Z"/><path fill-opacity="0.160" d="M116.9 242.1L130.7 236.5L117.0 230.2L103.2 237.0Z"/><path fill-opacity="0.020" d="M185.6 280.6L199.3 275.0L185.6 261.5L171.9 267.2Z"/><path fill-opacity="0.049" d="M171.9 267.2L185.6 261.5L171.9 249.2L158.1 255.2Z"/><path fill-opacity="0.082" d="M158.1 255.2L171.9 249.2L158.2 238.7L144.4 244.8Z"/><path fill-opacity="0.120" d="M144.4 244.8L158.2 238.7L144.4 230.3L130.7 236.5Z"/><path fill-opacity="0.160" d="M130.7 236.5L144.4 230.3L130.7 223.7L117.0 230.2Z"/><path fill-opacity="0.020" d="M199.3 275.0L213.1 268.6L199.4 255.1L185.6 261.5Z"/><path fill-opacity="0.049" d="M185.6 261.5L199.4 255.1L185.6 242.6L171.9 249.2Z"/><path fill-opacity="0.082" d="M171.9 249.2L185.6 242.6L171.9 231.8L158.2 238.7Z"/><path fill-opacity="0.120" d="M158.2 238.7L171.9 231.8L158.2 223.3L144.4 230.3Z"/><path fill-opacity="0.160" d="M144.4 230.3L158.2 223.3L144.5 216.8L130.7 223.7Z"/><path fill-opacity="0.020" d="M213.1 268.6L226.8 261.7L213.1 248.2L199.4 255.1Z"/><path fill-opacity="0.049" d="M199.4 255.1L213.1 248.2L199.4 235.6L185.6 242.6Z"/><path fill-opacity="0.082" d="M185.6 242.6L199.4 235.6L185.7 224.7L171.9 231.8Z"/><path fill-opacity="0.120" d="M171.9 231.8L185.7 224.7L171.9 216.3L158.2 223.3Z"/><path fill-opacity="0.160" d="M158.2 223.3L171.9 216.3L158.2 210.0L144.5 216.8Z"/><path fill-opacity="0.020" d="M226.8 261.7L240.6 254.4L226.9 240.9L213.1 248.2Z"/><path fill-opacity="0.049" d="M213.1 248.2L226.9 240.9L213.1 228.7L199.4 235.6Z"/><path fill-opacity="0.082" d="M199.4 235.6L213.1 228.7L199.4 218.3L185.7 224.7Z"/><path fill-opacity="0.120" d="M185.7 224.7L199.4 218.3L185.7 210.0L171.9 216.3Z"/><path fill-opacity="0.160" d="M171.9 216.3L185.7 210.0L172.0 203.3L158.2 210.0Z"/><path fill-opacity="0.020" d="M240.6 254.4L254.3 246.6L240.6 233.2L226.9 240.9Z"/><path fill-opacity="0.049" d="M226.9 240.9L240.6 233.2L226.9 221.2L213.1 228.7Z"/><path fill-opacity="0.082" d="M213.1 228.7L226.9 221.2L213.2 211.0L199.4 218.3Z"/><path fill-opacity="0.120" d="M199.4 218.3L213.2 211.0L199.4 202.7L185.7 210.0Z"/><path fill-opacity="0.160" d="M185.7 210.0L199.4 202.7L185.7 195.6L172.0 203.3Z"/><path fill-opacity="0.020" d="M254.3 246.6L268.1 238.1L254.4 224.6L240.6 233.2Z"/><path fill-opacity="0.049" d="M240.6 233.2L254.4 224.6L240.6 212.5L226.9 221.2Z"/><path fill-opacity="0.082" d="M226.9 221.2L240.6 212.5L226.9 202.3L213.2 211.0Z"/><path fill-opacity="0.120" d="M213.2 211.0L226.9 202.3L213.2 193.8L199.4 202.7Z"/><path fill-opacity="0.160" d="M199.4 202.7L213.2 193.8L199.5 186.5L185.7 195.6Z"/><path fill-opacity="0.020" d="M268.1 238.1L281.9 229.0L268.1 215.0L254.4 224.6Z"/><path fill-opacity="0.049" d="M254.4 224.6L268.1 215.0L254.4 202.5L240.6 212.5Z"/><path fill-opacity="0.082" d="M240.6 212.5L254.4 202.5L240.7 191.9L226.9 202.3Z"/><path fill-opacity="0.120" d="M226.9 202.3L240.7 191.9L226.9 183.2L213.2 193.8Z"/><path fill-opacity="0.160" d="M213.2 193.8L226.9 183.2L213.2 176.0L199.5 186.5Z"/><path fill-opacity="0.020" d="M281.9 229.0L295.6 219.1L281.9 204.5L268.1 215.0Z"/><path fill-opacity="0.049" d="M268.1 215.0L281.9 204.5L268.2 191.3L254.4 202.5Z"/><path fill-opacity="0.082" d="M254.4 202.5L268.2 191.3L254.4 179.9L240.7 191.9Z"/><path fill-opacity="0.120" d="M240.7 191.9L254.4 179.9L240.7 170.9L226.9 183.2Z"/><path fill-opacity="0.160" d="M226.9 183.2L240.7 170.9L227.0 163.9L213.2 176.0Z"/><path fill-opacity="0.020" d="M295.6 219.1L309.4 208.3L295.6 193.2L281.9 204.5Z"/><path fill-opacity="0.049" d="M281.9 204.5L295.6 193.2L281.9 179.3L268.2 191.3Z"/><path fill-opacity="0.082" d="M268.2 191.3L281.9 179.3L268.2 167.1L254.4 179.9Z"/><path fill-opacity="0.120" d="M254.4 179.9L268.2 167.1L254.5 157.5L240.7 170.9Z"/><path fill-opacity="0.160" d="M240.7 170.9L254.5 157.5L240.7 150.5L227.0 163.9Z"/><path fill-opacity="0.020" d="M309.4 208.3L323.1 196.8L309.4 181.3L295.6 193.2Z"/><path fill-opacity="0.049" d="M295.6 193.2L309.4 181.3L295.7 167.2L281.9 179.3Z"/><path fill-opacity="0.082" d="M281.9 179.3L295.7 167.2L281.9 155.0L268.2 167.1Z"/><path fill-opacity="0.120" d="M268.2 167.1L281.9 155.0L268.2 145.0L254.5 157.5Z"/><path fill-opacity="0.160" d="M254.5 157.5L268.2 145.0L254.5 137.2L240.7 150.5Z"/><path fill-opacity="0.020" d="M323.1 196.8L336.9 184.5L323.1 168.9L309.4 181.3Z"/><path fill-opacity="0.049" d="M309.4 181.3L323.1 168.9L309.4 154.9L295.7 167.2Z"/><path fill-opacity="0.082" d="M295.7 167.2L309.4 154.9L295.7 142.9L281.9 155.0Z"/><path fill-opacity="0.120" d="M281.9 155.0L295.7 142.9L282.0 132.8L268.2 145.0Z"/><path fill-opacity="0.160" d="M268.2 145.0L282.0 132.8L268.2 124.0L254.5 137.2Z"/><path fill-opacity="0.020" d="M336.9 184.5L350.6 171.3L336.9 155.9L323.1 168.9Z"/><path fill-opacity="0.049" d="M323.1 168.9L336.9 155.9L323.2 142.2L309.4 154.9Z"/><path fill-opacity="0.082" d="M309.4 154.9L323.2 142.2L309.4 130.2L295.7 142.9Z"/><path fill-opacity="0.120" d="M295.7 142.9L309.4 130.2L295.7 120.0L282.0 132.8Z"/><path fill-opacity="0.160" d="M282.0 132.8L295.7 120.0L282.0 111.0L268.2 124.0Z"/><path fill-opacity="0.015" d="M350.6 171.3L364.4 157.6L350.6 142.5L336.9 155.9Z"/><path fill-opacity="0.036" d="M336.9 155.9L350.6 142.5L336.9 128.8L323.2 142.2Z"/><path fill-opacity="0.062" d="M323.2 142.2L336.9 128.8L323.2 116.6L309.4 130.2Z"/><path fill-opacity="0.090" d="M309.4 130.2L323.2 116.6L309.5 106.1L295.7 120.0Z"/><path fill-opacity="0.120" d="M295.7 120.0L309.5 106.1L295.7 97.1L282.0 111.0Z"/><path fill-opacity="0.010" d="M364.4 157.6L378.1 143.8L364.4 128.7L350.6 142.5Z"/><path fill-opacity="0.024" d="M350.6 142.5L364.4 128.7L350.7 114.8L336.9 128.8Z"/><path fill-opacity="0.041" d="M336.9 128.8L350.7 114.8L336.9 102.0L323.2 116.6Z"/><path fill-opacity="0.060" d="M323.2 116.6L336.9 102.0L323.2 90.9L309.5 106.1Z"/><path fill-opacity="0.080" d="M309.5 106.1L323.2 90.9L309.5 81.5L295.7 97.1Z"/><path fill-opacity="0.005" d="M378.1 143.8L391.9 129.7L378.1 114.5L364.4 128.7Z"/><path fill-opacity="0.012" d="M364.4 128.7L378.1 114.5L364.4 100.2L350.7 114.8Z"/><path fill-opacity="0.021" d="M350.7 114.8L364.4 100.2L350.7 86.8L336.9 102.0Z"/><path fill-opacity="0.030" d="M336.9 102.0L350.7 86.8L337.0 74.8L323.2 90.9Z"/><path fill-opacity="0.040" d="M323.2 90.9L337.0 74.8L323.2 64.0L309.5 81.5Z"/><path fill-opacity="0.000" d="M391.9 129.7L405.6 115.1L391.9 99.6L378.1 114.5Z"/><path fill-opacity="0.000" d="M378.1 114.5L391.9 99.6L378.2 84.9L364.4 100.2Z"/><path fill-opacity="0.000" d="M364.4 100.2L378.2 84.9L364.4 71.2L350.7 86.8Z"/><path fill-opacity="0.000" d="M350.7 86.8L364.4 71.2L350.7 58.8L337.0 74.8Z"/><path fill-opacity="0.000" d="M337.0 74.8L350.7 58.8L337.0 47.1L323.2 64.0Z"/><path fill-opacity="0.000" d="M405.6 115.1L419.4 99.7L405.7 83.6L391.9 99.6Z"/><path fill-opacity="0.000" d="M391.9 99.6L405.7 83.6L391.9 68.7L378.2 84.9Z"/><path fill-opacity="0.000" d="M378.2 84.9L391.9 68.7L378.2 55.2L364.4 71.2Z"/><path fill-opacity="0.000" d="M364.4 71.2L378.2 55.2L364.5 43.3L350.7 58.8Z"/><path fill-opacity="0.000" d="M350.7 58.8L364.5 43.3L350.7 32.8L337.0 47.1Z"/><path fill-opacity="0.000" d="M419.4 99.7L433.1 83.6L419.4 66.6L405.7 83.6Z"/><path fill-opacity="0.000" d="M405.7 83.6L419.4 66.6L405.7 52.0L391.9 68.7Z"/><path fill-opacity="0.000" d="M391.9 68.7L405.7 52.0L392.0 39.2L378.2 55.2Z"/><path fill-opacity="0.000" d="M378.2 55.2L392.0 39.2L378.2 28.2L364.5 43.3Z"/><path fill-opacity="0.000" d="M364.5 43.3L378.2 28.2L364.5 18.8L350.7 32.8Z"/></g></g><g fill="none" stroke-width="1.15" stroke-linejoin="round" stroke-linecap="round"><path stroke="#8a8a8a" d="M469.4 410.7L460.3 404.9L454.1 402.2L446.6 397.5L439.0 393.5L432.8 388.2L426.4 383.0L419.1 369.6L418.8 369.0L418.7 368.5M423.6 352.5L419.1 367.3L418.7 368.5M433.8 340.4L432.9 341.6L423.6 352.5M449.4 332.0L446.6 333.8L433.8 340.4M469.6 326.9L460.4 329.8L449.4 332.0M495.8 326.0L487.9 326.6L480.3 325.8L474.1 326.7L469.6 326.9M532.3 332.4L529.1 332.5L527.4 331.3L515.3 330.3L506.0 327.0L501.6 326.9L495.8 326.0M567.9 341.5L556.6 339.7L546.9 336.9L542.8 336.1L532.3 332.4M474.0 408.3L460.3 398.7L446.6 389.2L432.8 379.3L419.1 368.8L418.7 368.5M487.8 398.9L474.0 389.9L460.3 380.5L446.6 370.7L432.9 360.2L423.6 352.5M501.5 389.2L487.8 380.4L474.1 371.3L460.3 361.5L446.6 351.0L433.8 340.4M515.3 379.4L501.6 370.7L487.8 361.6L474.1 351.8L460.4 341.2L449.4 332.0M529.0 369.9L515.3 360.9L501.6 351.6L487.9 341.6L474.1 330.8L469.6 326.9M542.8 360.0L529.1 350.8L515.3 341.1L501.6 330.7L495.8 326.0M556.5 350.9L542.8 340.4L532.3 332.4M469.4 410.7L474.0 408.3L487.8 398.9L501.5 389.2L515.3 379.4L529.0 369.9L542.8 360.0L556.5 350.9L567.9 341.5M454.1 402.2L460.3 398.7L474.0 389.9L487.8 380.4L501.6 370.7L515.3 360.9L529.1 350.8L542.8 340.4L546.9 336.9M439.0 393.5L446.6 389.2L460.3 380.5L474.1 371.3L487.8 361.6L501.6 351.6L515.3 341.1L527.4 331.3M426.4 383.0L432.8 379.3L446.6 370.7L460.3 361.5L474.1 351.8L487.9 341.6L501.6 330.7L506.0 327.0M418.8 369.0L419.1 368.8L432.9 360.2L446.6 351.0L460.4 341.2L474.1 330.8L480.3 325.8"/><path stroke="#ebbd2c" d="M403.6 438.0L391.5 432.1L387.5 430.0L377.8 425.0L371.6 421.8L364.1 417.4L356.5 413.1L350.3 408.9L342.3 403.7L336.6 398.3L330.3 392.8L322.9 382.6L320.9 380.1L318.8 375.8M314.8 365.0L318.8 375.8M314.8 365.0L312.7 352.1M312.6 347.3L312.7 352.1M312.6 347.3L314.4 333.9M318.1 324.1L314.4 333.9M318.1 324.1L320.7 319.1M329.6 305.9L323.0 315.7L320.7 319.1M339.7 293.7L336.8 297.3L329.6 305.9M351.7 282.8L350.5 283.9L339.7 293.7M366.0 273.5L364.3 274.7L351.7 282.8M382.8 266.0L378.0 268.2L366.0 273.5M401.7 260.0L391.8 263.3L382.8 266.0M422.7 255.4L419.2 256.3L412.7 257.5L405.5 259.2L401.7 260.0M443.6 250.8L433.0 253.5L422.7 255.4M465.8 247.1L460.5 248.0L452.2 249.1L446.7 250.2L443.6 250.8M489.6 244.5L488.0 244.6L486.0 244.7L474.2 246.3L465.8 247.1M514.9 243.0L501.7 243.9L489.6 244.5M542.6 243.1L529.2 242.7L516.1 242.8L515.4 242.9L514.9 243.0M574.2 246.0L570.4 245.3L568.1 245.0L556.7 244.4L543.2 243.1L542.9 243.1L542.6 243.1M405.3 437.5L391.5 428.8L377.8 420.1L364.1 411.0L350.4 401.3L336.6 390.8L322.9 379.4L318.8 375.8M419.0 433.2L405.3 424.4L391.6 415.4L377.8 406.1L364.1 396.3L350.4 385.6L336.7 374.1L322.9 361.8L312.7 352.1M432.8 428.2L419.0 419.2L405.3 410.0L391.6 400.5L377.9 390.4L364.1 379.6L350.4 368.0L336.7 355.6L323.0 342.5L314.4 333.9M446.5 422.1L432.8 413.1L419.1 403.9L405.3 394.2L391.6 383.9L377.9 372.9L364.2 361.2L350.4 348.7L336.7 335.5L323.0 321.5L320.7 319.1M460.3 415.6L446.5 406.4L432.8 397.0L419.1 387.1L405.4 376.7L391.6 365.6L377.9 353.7L364.2 341.1L350.5 327.8L336.7 313.6L329.6 305.9M418.7 368.5L405.4 357.6L391.7 345.6L377.9 332.9L364.2 319.4L350.5 305.3L339.7 293.7M423.6 352.5L419.1 348.9L405.4 336.8L391.7 324.0L378.0 310.5L364.2 296.3L351.7 282.8M433.8 340.4L432.9 339.6L419.2 327.4L405.4 314.3L391.7 300.7L378.0 286.4L366.0 273.5M449.4 332.0L446.6 329.7L432.9 317.2L419.2 303.9L405.5 290.1L391.7 275.7L382.8 266.0M469.6 326.9L460.4 319.0L446.7 306.3L432.9 292.8L419.2 278.6L405.5 264.1L401.7 260.0M495.8 326.0L487.9 319.6L474.2 307.5L460.4 294.6L446.7 281.0L433.0 266.5L422.7 255.4M532.3 332.4L529.1 329.9L515.4 319.1L501.6 307.6L487.9 295.4L474.2 282.5L460.5 268.8L446.7 254.3L443.6 250.8M570.3 339.5L556.6 328.8L542.8 318.0L529.1 306.8L515.4 295.2L501.7 282.8L487.9 269.8L474.2 256.0L465.8 247.1M584.0 326.8L570.3 316.2L556.6 305.3L542.9 294.0L529.1 282.3L515.4 269.9L501.7 256.7L489.6 244.5M597.8 313.9L584.1 303.2L570.3 292.3L556.6 281.0L542.9 269.2L529.2 256.7L515.4 243.5L514.9 243.0M611.5 301.6L597.8 290.4L584.1 279.1L570.4 267.8L556.6 255.9L542.9 243.4L542.6 243.1M625.3 289.5L611.6 277.5L597.8 265.8L584.1 254.5L574.2 246.0M403.6 438.0L405.3 437.5L419.0 433.2L432.8 428.2L446.5 422.1L460.3 415.6L469.4 410.7M567.9 341.5L570.3 339.5L584.0 326.8L597.8 313.9L611.5 301.6L625.3 289.5M387.5 430.0L391.5 428.8L405.3 424.4L419.0 419.2L432.8 413.1L446.5 406.4L454.1 402.2M546.9 336.9L556.6 328.8L570.3 316.2L584.1 303.2L597.8 290.4L611.6 277.5M371.6 421.8L377.8 420.1L391.6 415.4L405.3 410.0L419.1 403.9L432.8 397.0L439.0 393.5M527.4 331.3L529.1 329.9L542.8 318.0L556.6 305.3L570.3 292.3L584.1 279.1L597.8 265.8M356.5 413.1L364.1 411.0L377.8 406.1L391.6 400.5L405.3 394.2L419.1 387.1L426.4 383.0M506.0 327.0L515.4 319.1L529.1 306.8L542.9 294.0L556.6 281.0L570.4 267.8L584.1 254.5M342.3 403.7L350.4 401.3L364.1 396.3L377.9 390.4L391.6 383.9L405.4 376.7L418.8 369.0M480.3 325.8L487.9 319.6L501.6 307.6L515.4 295.2L529.1 282.3L542.9 269.2L556.6 255.9L568.1 245.0M330.3 392.8L336.6 390.8L350.4 385.6L364.1 379.6L377.9 372.9L391.6 365.6L405.4 357.6L419.1 348.9L432.9 339.6L446.6 329.7L460.4 319.0L474.2 307.5L487.9 295.4L501.7 282.8L515.4 269.9L529.2 256.7L542.9 243.4L543.2 243.1M320.9 380.1L322.9 379.4L336.7 374.1L350.4 368.0L364.2 361.2L377.9 353.7L391.7 345.6L405.4 336.8L419.2 327.4L432.9 317.2L446.7 306.3L460.4 294.6L474.2 282.5L487.9 269.8L501.7 256.7L515.4 243.5L516.1 242.8M314.8 365.0L322.9 361.8L336.7 355.6L350.4 348.7L364.2 341.1L377.9 332.9L391.7 324.0L405.4 314.3L419.2 303.9L432.9 292.8L446.7 281.0L460.5 268.8L474.2 256.0L486.0 244.7M312.6 347.3L323.0 342.5L336.7 335.5L350.5 327.8L364.2 319.4L378.0 310.5L391.7 300.7L405.5 290.1L419.2 278.6L433.0 266.5L446.7 254.3L452.2 249.1M318.1 324.1L323.0 321.5L336.7 313.6L350.5 305.3L364.2 296.3L378.0 286.4L391.7 275.7L405.5 264.1L412.7 257.5"/><path stroke="#6a9acb" d="M249.9 352.9L253.9 369.1M249.9 352.9L249.5 346.6M248.9 334.3L249.5 346.6M248.9 334.3L249.1 326.9M250.9 313.6L249.1 326.9M250.9 313.6L251.7 309.4M257.1 293.8L254.3 302.2L251.7 309.4M260.1 287.8L257.1 293.8M260.1 287.8L264.2 279.5M272.8 266.2L268.1 273.6L264.2 279.5M282.8 253.9L281.8 255.2L272.8 266.2M288.5 248.5L282.8 253.9M288.5 248.5L294.4 242.7M307.8 232.7L295.6 242.0L294.4 242.7M322.9 224.0L309.3 232.0L307.8 232.7M339.7 216.5L336.8 217.9L323.9 223.6L323.1 224.0L322.9 224.0M358.3 210.2L350.6 213.1L339.7 216.5M378.3 205.0L378.1 205.0L377.6 205.1L364.3 208.8L358.3 210.2M400.8 201.5L391.8 203.1L378.3 205.0M423.6 198.2L419.3 199.0L412.8 199.8L405.6 200.9L400.8 201.5M445.6 194.4L433.0 196.8L423.6 198.2M468.1 190.9L460.5 192.2L448.6 193.9L446.8 194.2L445.6 194.4M490.6 187.4L488.0 187.8L484.2 188.3L474.3 190.1L468.1 190.9M513.2 184.0L501.7 185.6L490.6 187.4M364.0 448.1L350.3 439.0L336.5 429.6L322.8 420.3L309.1 411.2L295.4 401.6L281.6 391.6L267.9 380.7L254.2 369.4L253.9 369.1M377.8 445.1L364.0 436.1L350.3 427.0L336.6 417.8L322.8 408.5L309.1 398.6L295.4 388.0L281.7 376.6L267.9 364.6L254.2 351.4L249.5 346.6M391.5 441.6L377.8 432.7L364.1 423.9L350.3 414.8L336.6 405.4L322.9 395.2L309.1 384.0L295.4 372.2L281.7 359.7L268.0 346.3L254.2 332.3L249.1 326.9M318.8 375.8L309.2 367.3L295.4 354.5L281.7 340.9L268.0 326.8L254.3 312.2L251.7 309.4M312.7 352.1L309.2 348.8L295.5 335.1L281.7 320.7L268.0 305.8L257.1 293.8M314.4 333.9L309.2 328.8L295.5 314.0L281.8 298.9L268.0 283.7L264.2 279.5M320.7 319.1L309.3 306.7L295.5 291.5L281.8 276.1L272.8 266.2M329.6 305.9L323.0 298.8L309.3 283.5L295.6 268.0L282.8 253.9M339.7 293.7L336.8 290.5L323.0 275.1L309.3 259.5L295.6 243.9L294.4 242.7M351.7 282.8L350.5 281.5L336.8 266.0L323.1 250.3L309.3 234.5L307.8 232.7M366.0 273.5L364.3 271.6L350.5 256.1L336.8 240.3L323.1 224.3L322.9 224.0M382.8 266.0L378.0 260.8L364.3 245.3L350.6 229.4L339.7 216.5M401.7 260.0L391.8 249.0L378.0 233.5L364.3 217.6L358.3 210.2M422.7 255.4L419.2 251.6L405.5 236.4L391.8 220.8L378.3 205.0M443.6 250.8L433.0 238.9L419.3 223.2L405.5 207.2L400.8 201.5M465.8 247.1L460.5 241.4L446.8 225.7L433.0 209.5L423.6 198.2M489.6 244.5L488.0 242.8L474.2 227.9L460.5 212.2L446.8 195.8L445.6 194.4M514.9 243.0L501.7 229.4L488.0 214.3L474.3 198.3L468.1 190.9M542.6 243.1L529.2 230.4L515.5 216.3L501.7 200.5L490.6 187.4M574.2 246.0L570.4 242.8L556.7 230.1L542.9 217.5L529.2 203.7L515.5 186.6L513.2 184.0M364.0 448.1L377.8 445.1L391.5 441.6L403.6 438.0M350.3 439.0L364.0 436.1L377.8 432.7L387.5 430.0M336.5 429.6L350.3 427.0L364.1 423.9L371.6 421.8M322.8 420.3L336.6 417.8L350.3 414.8L356.5 413.1M309.1 411.2L322.8 408.5L336.6 405.4L342.3 403.7M568.1 245.0L570.4 242.8M295.4 401.6L309.1 398.6L322.9 395.2L330.3 392.8M543.2 243.1L556.7 230.1M281.6 391.6L295.4 388.0L309.1 384.0L320.9 380.1M516.1 242.8L529.2 230.4L542.9 217.5M267.9 380.7L281.7 376.6L295.4 372.2L309.2 367.3L314.8 365.0M486.0 244.7L488.0 242.8L501.7 229.4L515.5 216.3L529.2 203.7M254.2 369.4L267.9 364.6L281.7 359.7L295.4 354.5L309.2 348.8L312.6 347.3M452.2 249.1L460.5 241.4L474.2 227.9L488.0 214.3L501.7 200.5L515.5 186.6M249.9 352.9L254.2 351.4L268.0 346.3L281.7 340.9L295.5 335.1L309.2 328.8L318.1 324.1M412.7 257.5L419.2 251.6L433.0 238.9L446.8 225.7L460.5 212.2L474.3 198.3L484.2 188.3M248.9 334.3L254.2 332.3L268.0 326.8L281.7 320.7L295.5 314.0L309.3 306.7L323.0 298.8L336.8 290.5L350.5 281.5L364.3 271.6L378.0 260.8L391.8 249.0L405.5 236.4L419.3 223.2L433.0 209.5L446.8 195.8L448.6 193.9M250.9 313.6L254.3 312.2L268.0 305.8L281.8 298.9L295.5 291.5L309.3 283.5L323.0 275.1L336.8 266.0L350.5 256.1L364.3 245.3L378.0 233.5L391.8 220.8L405.5 207.2L412.8 199.8M260.1 287.8L268.0 283.7L281.8 276.1L295.6 268.0L309.3 259.5L323.1 250.3L336.8 240.3L350.6 229.4L364.3 217.6L377.6 205.1M288.5 248.5L295.6 243.9L309.3 234.5L323.1 224.3L323.9 223.6"/><path stroke="#68a850" d="M190.8 298.1L190.6 305.4M190.8 298.1L191.3 286.5M191.9 278.0L191.3 286.5M191.9 278.0L191.4 267.2M192.3 258.4L191.4 267.2M192.3 258.4L191.3 247.8M153.3 221.0L144.4 221.6L134.1 221.9M191.6 239.6L191.3 247.8M191.6 239.6L185.7 228.6L183.9 225.6L171.9 222.7L163.8 220.4L158.2 220.8L153.3 221.0M291.5 163.5L281.9 163.6L272.3 163.5L268.2 161.2L258.2 154.0L254.5 140.4L253.9 137.7M315.3 160.9L309.4 161.7L299.7 163.6L295.7 163.4L291.5 163.5M338.9 158.1L336.9 158.5L333.4 159.2L323.1 160.0L315.3 160.9M362.3 155.3L350.6 156.5L338.9 158.1M385.3 152.2L378.1 153.0L367.1 154.9L364.4 155.1L362.3 155.3M408.5 149.2L405.6 149.6L401.0 150.3L391.9 151.4L385.3 152.2M431.6 146.1L419.3 147.8L408.5 149.2M455.3 143.4L446.8 144.7L435.0 145.8L433.1 146.0L431.6 146.1M478.3 140.3L474.3 140.7L468.7 141.4L460.6 143.0L455.3 143.4M253.9 369.1L240.5 356.3L226.7 342.1L213.0 328.1L199.3 314.3L190.6 305.4M249.5 346.6L240.5 337.4L226.8 323.2L213.0 309.0L199.3 294.8L191.3 286.5M249.1 326.9L240.5 318.0L226.8 303.4L213.1 289.0L199.3 275.0L191.4 267.2M251.7 309.4L240.5 297.4L226.8 282.8L213.1 268.6L199.4 255.1L191.3 247.8M153.3 221.0L144.5 216.8M257.1 293.8L254.3 290.8L240.6 276.0L226.8 261.7L213.1 248.2L199.4 235.6L185.7 224.7L171.9 216.3L158.2 210.0M264.2 279.5L254.3 268.7L240.6 254.4L226.9 240.9L213.1 228.7L199.4 218.3L185.7 210.0L172.0 203.3M272.8 266.2L268.1 261.0L254.3 246.6L240.6 233.2L226.9 221.2L213.2 211.0L199.4 202.7L185.7 195.6M282.8 253.9L281.8 252.8L268.1 238.1L254.4 224.6L240.6 212.5L226.9 202.3L213.2 193.8L199.5 186.5M294.4 242.7L281.9 229.0L268.1 215.0L254.4 202.5L240.7 191.9L226.9 183.2L213.2 176.0M307.8 232.7L295.6 219.1L281.9 204.5L268.2 191.3L254.4 179.9L240.7 170.9L227.0 163.9M322.9 224.0L309.4 208.3L295.6 193.2L281.9 179.3L268.2 167.1L254.5 157.5L240.7 150.5M339.7 216.5L336.8 213.1L323.1 196.8L309.4 181.3L295.7 167.2L291.5 163.5M358.3 210.2L350.6 201.0L336.9 184.5L323.1 168.9L315.3 160.9M378.3 205.0L378.1 204.8L364.3 187.9L350.6 171.3L338.9 158.1M400.8 201.5L391.8 190.8L378.1 174.0L364.4 157.6L362.3 155.3M423.6 198.2L419.3 193.1L405.6 176.5L391.8 159.8L385.3 152.2M445.6 194.4L433.1 179.0L419.3 162.3L408.5 149.2M468.1 190.9L460.5 181.7L446.8 164.8L433.1 147.9L431.6 146.1M490.6 187.4L488.0 184.4L474.3 167.2L460.6 150.1L455.3 143.4M513.2 184.0L501.8 170.6L488.0 152.1L478.3 140.3M240.5 356.3L249.9 352.9M484.2 188.3L488.0 184.4L501.8 170.6M226.7 342.1L240.5 337.4L248.9 334.3M448.6 193.9L460.5 181.7L474.3 167.2L488.0 152.1M213.0 328.1L226.8 323.2L240.5 318.0L250.9 313.6M412.8 199.8L419.3 193.1L433.1 179.0L446.8 164.8L460.6 150.1L468.7 141.4M199.3 314.3L213.0 309.0L226.8 303.4L240.5 297.4L254.3 290.8L260.1 287.8M377.6 205.1L378.1 204.8L391.8 190.8L405.6 176.5L419.3 162.3L433.1 147.9L435.0 145.8M190.8 298.1L199.3 294.8L213.1 289.0L226.8 282.8L240.6 276.0L254.3 268.7L268.1 261.0L281.8 252.8L288.5 248.5M323.9 223.6L336.8 213.1L350.6 201.0L364.3 187.9L378.1 174.0L391.8 159.8L401.0 150.3M191.9 278.0L199.3 275.0L213.1 268.6L226.8 261.7L240.6 254.4L254.3 246.6L268.1 238.1L281.9 229.0L295.6 219.1L309.4 208.3L323.1 196.8L336.9 184.5L350.6 171.3L364.4 157.6L367.1 154.9M192.3 258.4L199.4 255.1L213.1 248.2L226.9 240.9L240.6 233.2L254.4 224.6L268.1 215.0L281.9 204.5L295.6 193.2L309.4 181.3L323.1 168.9L333.4 159.2M191.6 239.6L199.4 235.6L213.1 228.7L226.9 221.2L240.6 212.5L254.4 202.5L268.2 191.3L281.9 179.3L295.7 167.2L299.7 163.6M183.9 225.6L185.7 224.7L199.4 218.3L213.2 211.0L226.9 202.3L240.7 191.9L254.4 179.9L268.2 167.1L272.3 163.5M163.8 220.4L171.9 216.3L185.7 210.0L199.4 202.7L213.2 193.8L226.9 183.2L240.7 170.9L254.5 157.5L258.2 154.0M134.1 221.9L144.5 216.8L158.2 210.0L172.0 203.3L185.7 195.6L199.5 186.5L213.2 176.0L227.0 163.9L240.7 150.5L253.9 137.7"/><path stroke="#36558c" d="M359.9 95.8L350.7 94.9L344.5 93.7L337.0 91.5L326.6 86.9L323.2 85.3L312.8 77.3M390.3 97.9L378.2 97.7L367.4 96.9L364.4 96.6L359.9 95.8M418.0 98.1L405.6 98.5L393.2 98.1L391.9 98.0L390.3 97.9M443.9 97.0L433.1 97.8L420.7 98.1L419.4 98.1L418.0 98.1M190.6 305.4L185.6 300.2L171.8 285.5L158.1 272.4L144.4 260.7L130.7 250.2L116.9 242.1L103.2 237.0M191.3 286.5L185.6 280.6L171.9 267.2L158.1 255.2L144.4 244.8L130.7 236.5L117.0 230.2M191.4 267.2L185.6 261.5L171.9 249.2L158.2 238.7L144.4 230.3L130.7 223.7M191.3 247.8L185.6 242.6L171.9 231.8L158.2 223.3L153.3 221.0M291.5 163.5L281.9 155.0L268.2 145.0L254.5 137.2M315.3 160.9L309.4 154.9L295.7 142.9L282.0 132.8L268.2 124.0M338.9 158.1L336.9 155.9L323.2 142.2L309.4 130.2L295.7 120.0L282.0 111.0M362.3 155.3L350.6 142.5L336.9 128.8L323.2 116.6L309.5 106.1L295.7 97.1M385.3 152.2L378.1 143.8L364.4 128.7L350.7 114.8L336.9 102.0L323.2 90.9L309.5 81.5M408.5 149.2L405.6 145.6L391.9 129.7L378.1 114.5L364.4 100.2L359.9 95.8M431.6 146.1L419.4 131.2L405.6 115.1L391.9 99.6L390.3 97.9M455.3 143.4L446.8 132.7L433.1 116.1L419.4 99.7L418.0 98.1M478.3 140.3L474.3 135.4L460.6 116.8L446.9 100.6L443.9 97.0M468.7 141.4L474.3 135.4M435.0 145.8L446.8 132.7L460.6 116.8M185.6 300.2L190.8 298.1M401.0 150.3L405.6 145.6L419.4 131.2L433.1 116.1L446.9 100.6M171.8 285.5L185.6 280.6L191.9 278.0M367.1 154.9L378.1 143.8L391.9 129.7L405.6 115.1L419.4 99.7L420.7 98.1M158.1 272.4L171.9 267.2L185.6 261.5L192.3 258.4M333.4 159.2L336.9 155.9L350.6 142.5L364.4 128.7L378.1 114.5L391.9 99.6L393.2 98.1M144.4 260.7L158.1 255.2L171.9 249.2L185.6 242.6L191.6 239.6M299.7 163.6L309.4 154.9L323.2 142.2L336.9 128.8L350.7 114.8L364.4 100.2L367.4 96.9M130.7 250.2L144.4 244.8L158.2 238.7L171.9 231.8L183.9 225.6M272.3 163.5L281.9 155.0L295.7 142.9L309.4 130.2L323.2 116.6L336.9 102.0L344.5 93.7M116.9 242.1L130.7 236.5L144.4 230.3L158.2 223.3L163.8 220.4M258.2 154.0L268.2 145.0L282.0 132.8L295.7 120.0L309.5 106.1L323.2 90.9L326.6 86.9M103.2 237.0L117.0 230.2L130.7 223.7L134.1 221.9M253.9 137.7L254.5 137.2L268.2 124.0L282.0 111.0L295.7 97.1L309.5 81.5L312.8 77.3"/><path stroke="#ad6332" d="M401.1 47.7L391.9 45.3L387.4 44.4L378.2 40.1L369.7 37.6L364.5 33.5L354.7 28.8M359.9 95.8L350.7 86.8L337.0 74.8L323.2 64.0M390.3 97.9L378.2 84.9L364.4 71.2L350.7 58.8L337.0 47.1M418.0 98.1L405.7 83.6L391.9 68.7L378.2 55.2L364.5 43.3L350.7 32.8M443.9 97.0L433.1 83.6L419.4 66.6L405.7 52.0L401.1 47.7M420.7 98.1L433.1 83.6M393.2 98.1L405.7 83.6L419.4 66.6M367.4 96.9L378.2 84.9L391.9 68.7L405.7 52.0M344.5 93.7L350.7 86.8L364.4 71.2L378.2 55.2L387.4 44.4M326.6 86.9L337.0 74.8L350.7 58.8L364.5 43.3L369.7 37.6M312.8 77.3L323.2 64.0L337.0 47.1L350.7 32.8L354.7 28.8"/><path stroke="#666666" d="M401.1 47.7L392.0 39.2L378.2 28.2L364.5 18.8M387.4 44.4L392.0 39.2M369.7 37.6L378.2 28.2M354.7 28.8L364.5 18.8"/></g><g fill="#8f8f8f" font-size="20"><text x="82.7" y="365.2" text-anchor="end">1125</text><text x="82.7" y="346.1" text-anchor="end">1150</text><text x="82.7" y="327.1" text-anchor="end">1175</text><text x="82.7" y="308.1" text-anchor="end">1200</text><text x="82.7" y="289.0" text-anchor="end">1225</text><text x="82.7" y="269.9" text-anchor="end">1250</text><text x="82.7" y="250.9" text-anchor="end">1275</text><text x="82.7" y="231.8" text-anchor="end">1300</text><text x="82.7" y="212.8" text-anchor="end">1325</text><text x="82.7" y="193.7" text-anchor="end">1350</text><text x="76.0" y="375.2" text-anchor="middle">994</text><text x="116.8" y="404.0" text-anchor="middle">990</text><text x="157.0" y="432.2" text-anchor="middle">985</text><text x="198.4" y="461.9" text-anchor="middle">981</text><text x="239.8" y="491.5" text-anchor="middle">976</text><text x="281.0" y="520.7" text-anchor="middle">972</text><text x="321.8" y="549.9" text-anchor="middle">967</text><text x="407.5" y="549.5" text-anchor="middle">1076</text><text x="448.9" y="520.4" text-anchor="middle">1082</text><text x="490.2" y="491.7" text-anchor="middle">1089</text><text x="530.5" y="462.5" text-anchor="middle">1095</text><text x="571.9" y="433.0" text-anchor="middle">1101</text><text x="613.7" y="403.9" text-anchor="middle">1108</text><text x="652.8" y="374.9" text-anchor="middle">1114</text><text x="171.2" y="479.2" text-anchor="middle">Y3</text><text x="597.1" y="487.2" text-anchor="middle">Y2</text><text transform="translate(16.0 295.0) rotate(-90)" text-anchor="middle" font-size="18.3">DRAG FORCE (N)</text></g><g fill="#8f8f8f" font-size="20.5"><rect x="59.0" y="575.3" width="9" height="9" fill="#a9b9e0" stroke="#4472c4" stroke-width="1.6"/><text x="72.0" y="586.7">1125 -1150</text><rect x="186.3" y="575.3" width="9" height="9" fill="#f6b890" stroke="#ed7d31" stroke-width="1.6"/><text x="197.1" y="586.7">1150 -1175</text><rect x="311.8" y="575.3" width="9" height="9" fill="#cfcfcf" stroke="#a5a5a5" stroke-width="1.6"/><text x="323.0" y="586.7">1175 -1200</text><rect x="438.4" y="575.3" width="9" height="9" fill="#ffd966" stroke="#ffc000" stroke-width="1.6"/><text x="450.8" y="586.7">1200 -1225</text><rect x="564.1" y="575.3" width="9" height="9" fill="#a6c8ea" stroke="#5b9bd5" stroke-width="1.6"/><text x="577.5" y="586.7">1225 -1250</text><rect x="59.0" y="610.0" width="9" height="9" fill="#a9d18e" stroke="#70ad47" stroke-width="1.6"/><text x="72.0" y="621.4">1250 -1275</text><rect x="186.3" y="610.0" width="9" height="9" fill="#7d8db0" stroke="#264478" stroke-width="1.6"/><text x="197.1" y="621.4">1275 -1300</text><rect x="311.8" y="610.0" width="9" height="9" fill="#c59a80" stroke="#9e480e" stroke-width="1.6"/><text x="323.0" y="621.4">1300 -1325</text><rect x="438.4" y="610.0" width="9" height="9" fill="#9a9a9a" stroke="#636363" stroke-width="1.6"/><text x="450.8" y="621.4">1325 -1350</text></g><g font-size="27" fill="#111" text-anchor="middle"><text x="371.0" y="666.5">(a)</text><text x="366.0" y="1392.8">(b)</text></g><g font-size="22.5" fill="#111"><rect x="17" y="685" width="659" height="665" fill="#d7d8d0"/><rect x="127" y="747" width="529" height="514" fill="#fff"/><path d="M383.8 770.8l3.3 -3.3l3.3 3.3l-3.3 3.3zM403.9 773.8l3.3 -3.3l3.3 3.3l-3.3 3.3zM412.7 777.3l3.3 -3.3l3.3 3.3l-3.3 3.3zM409.0 781.6l3.3 -3.3l3.3 3.3l-3.3 3.3zM410.0 842.0l3.3 -3.3l3.3 3.3l-3.3 3.3zM373.1 883.3l3.3 -3.3l3.3 3.3l-3.3 3.3zM451.3 931.2l3.3 -3.3l3.3 3.3l-3.3 3.3zM348.2 969.8l3.3 -3.3l3.3 3.3l-3.3 3.3zM303.8 975.9l3.3 -3.3l3.3 3.3l-3.3 3.3zM378.3 993.1l3.3 -3.3l3.3 3.3l-3.3 3.3zM382.0 1003.0l3.3 -3.3l3.3 3.3l-3.3 3.3zM361.5 1006.6l3.3 -3.3l3.3 3.3l-3.3 3.3zM354.4 1012.5l3.3 -3.3l3.3 3.3l-3.3 3.3zM367.5 1010.4l3.3 -3.3l3.3 3.3l-3.3 3.3zM372.3 1008.2l3.3 -3.3l3.3 3.3l-3.3 3.3zM382.0 1018.3l3.3 -3.3l3.3 3.3l-3.3 3.3zM318.7 1010.7l3.3 -3.3l3.3 3.3l-3.3 3.3zM282.3 1014.8l3.3 -3.3l3.3 3.3l-3.3 3.3zM303.3 1022.3l3.3 -3.3l3.3 3.3l-3.3 3.3zM327.9 1021.3l3.3 -3.3l3.3 3.3l-3.3 3.3zM324.4 1028.5l3.3 -3.3l3.3 3.3l-3.3 3.3zM237.9 1034.2l3.3 -3.3l3.3 3.3l-3.3 3.3zM272.1 1043.4l3.3 -3.3l3.3 3.3l-3.3 3.3zM363.4 1042.0l3.3 -3.3l3.3 3.3l-3.3 3.3zM425.7 1015.2l3.3 -3.3l3.3 3.3l-3.3 3.3zM405.3 1032.1l3.3 -3.3l3.3 3.3l-3.3 3.3zM417.4 1034.5l3.3 -3.3l3.3 3.3l-3.3 3.3zM394.8 1051.2l3.3 -3.3l3.3 3.3l-3.3 3.3zM431.0 1050.5l3.3 -3.3l3.3 3.3l-3.3 3.3zM461.4 1051.6l3.3 -3.3l3.3 3.3l-3.3 3.3zM461.2 1059.2l3.3 -3.3l3.3 3.3l-3.3 3.3zM486.6 1047.4l3.3 -3.3l3.3 3.3l-3.3 3.3zM396.9 1074.4l3.3 -3.3l3.3 3.3l-3.3 3.3zM460.8 1072.5l3.3 -3.3l3.3 3.3l-3.3 3.3zM334.6 1076.5l3.3 -3.3l3.3 3.3l-3.3 3.3zM263.6 1081.0l3.3 -3.3l3.3 3.3l-3.3 3.3zM277.7 1091.0l3.3 -3.3l3.3 3.3l-3.3 3.3zM341.9 1098.6l3.3 -3.3l3.3 3.3l-3.3 3.3zM224.1 1100.3l3.3 -3.3l3.3 3.3l-3.3 3.3zM231.6 1111.3l3.3 -3.3l3.3 3.3l-3.3 3.3zM313.4 1117.0l3.3 -3.3l3.3 3.3l-3.3 3.3zM381.2 1121.0l3.3 -3.3l3.3 3.3l-3.3 3.3zM189.5 1120.8l3.3 -3.3l3.3 3.3l-3.3 3.3zM189.5 1127.1l3.3 -3.3l3.3 3.3l-3.3 3.3zM198.4 1140.4l3.3 -3.3l3.3 3.3l-3.3 3.3zM162.3 1148.3l3.3 -3.3l3.3 3.3l-3.3 3.3zM200.8 1155.9l3.3 -3.3l3.3 3.3l-3.3 3.3zM234.4 1155.9l3.3 -3.3l3.3 3.3l-3.3 3.3zM251.7 1150.2l3.3 -3.3l3.3 3.3l-3.3 3.3zM246.4 1169.2l3.3 -3.3l3.3 3.3l-3.3 3.3zM276.4 1165.8l3.3 -3.3l3.3 3.3l-3.3 3.3zM285.5 1167.7l3.3 -3.3l3.3 3.3l-3.3 3.3zM278.3 1179.1l3.3 -3.3l3.3 3.3l-3.3 3.3zM298.2 1182.5l3.3 -3.3l3.3 3.3l-3.3 3.3zM301.0 1187.2l3.3 -3.3l3.3 3.3l-3.3 3.3zM325.7 1181.0l3.3 -3.3l3.3 3.3l-3.3 3.3zM177.5 1188.6l3.3 -3.3l3.3 3.3l-3.3 3.3zM207.9 1187.2l3.3 -3.3l3.3 3.3l-3.3 3.3zM214.5 1195.8l3.3 -3.3l3.3 3.3l-3.3 3.3zM250.2 1198.3l3.3 -3.3l3.3 3.3l-3.3 3.3zM186.0 1205.6l3.3 -3.3l3.3 3.3l-3.3 3.3zM190.8 1212.9l3.3 -3.3l3.3 3.3l-3.3 3.3zM195.2 1217.6l3.3 -3.3l3.3 3.3l-3.3 3.3zM217.9 1208.7l3.3 -3.3l3.3 3.3l-3.3 3.3zM241.1 1208.7l3.3 -3.3l3.3 3.3l-3.3 3.3zM262.0 1222.7l3.3 -3.3l3.3 3.3l-3.3 3.3zM288.7 1221.4l3.3 -3.3l3.3 3.3l-3.3 3.3zM317.2 1236.6l3.3 -3.3l3.3 3.3l-3.3 3.3z" fill="#f00" stroke="#f00" stroke-width="1.8" stroke-linejoin="round"/><path d="M127 1261L156.7 1232.1L158.2 1231.8L215.3 1175.2L216.8 1174.9L273.9 1118.3L275.4 1118.0L332.5 1061.3L334.0 1061.0L391.1 1004.4L392.6 1004.1L449.7 947.5L451.2 947.2L508.3 890.5L509.8 890.2L566.9 833.6L568.4 833.3L625.5 776.6L627.0 776.3L656 747" stroke="#444" stroke-width="1.7" fill="none" stroke-linejoin="round"/><path d="M127 1072.9H655" stroke="#0000f0" stroke-width="3.2"/><path d="M127 747V1261H656M122.6 763.7H131.4M122.6 802.3H131.4M122.6 840.9H131.4M122.6 879.5H131.4M122.6 918.0H131.4M122.6 956.6H131.4M122.6 995.2H131.4M122.6 1033.8H131.4M122.6 1072.4H131.4M122.6 1110.9H131.4M122.6 1149.5H131.4M122.6 1188.1H131.4M122.6 1226.7H131.4M179.0 1256.6V1265.4M239.0 1256.6V1265.4M299.0 1256.6V1265.4M359.0 1256.6V1265.4M419.0 1256.6V1265.4M479.0 1256.6V1265.4M539.0 1256.6V1265.4M599.0 1256.6V1265.4" stroke="#222" stroke-width="2" fill="none"/><text x="117.4" y="815.7" text-anchor="end">1315</text><text x="117.4" y="892.3" text-anchor="end">1295</text><text x="117.4" y="968.3" text-anchor="end">1275</text><text x="117.4" y="1044.6" text-anchor="end">1255</text><text x="117.4" y="1121.0" text-anchor="end">1235</text><text x="117.4" y="1197.1" text-anchor="end">1215</text><text x="238.8" y="1294.0" text-anchor="middle">1225</text><text x="359.6" y="1294.0" text-anchor="middle">1255</text><text x="479.5" y="1294.0" text-anchor="middle">1285</text><text x="598.7" y="1294.0" text-anchor="middle">1315</text><text x="388.9" y="1320.6" text-anchor="middle" font-size="20" letter-spacing="0.4">Predicted</text><text transform="translate(61.9 1005.4) rotate(-90)" text-anchor="middle" font-size="20">Actual</text><text x="396" y="711.3" text-anchor="middle" font-size="21" letter-spacing="1.0">Drag (N)</text></g>
</svg>
</body></html>
